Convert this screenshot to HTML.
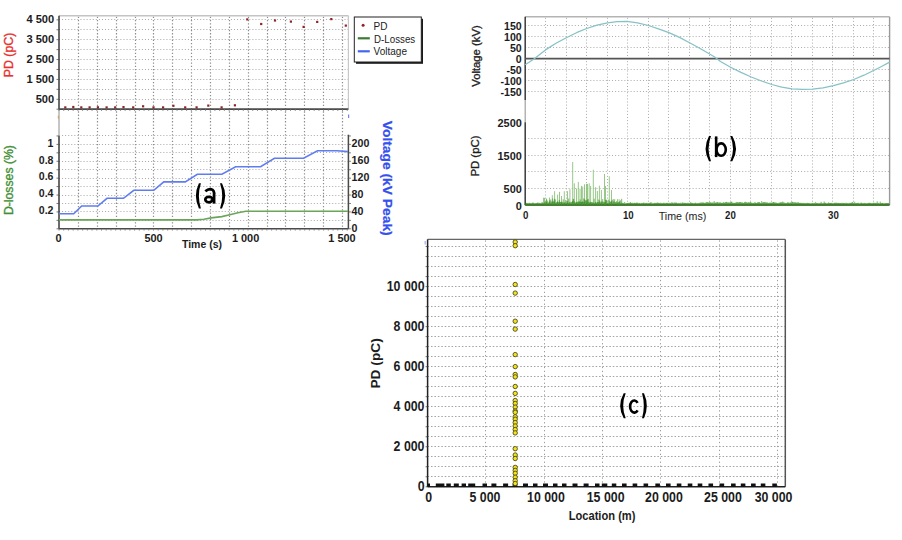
<!DOCTYPE html>
<html><head><meta charset="utf-8"><title>charts</title>
<style>
html,body{margin:0;padding:0;background:#fff;}
body{width:902px;height:540px;overflow:hidden;}
svg{display:block;}
text{font-family:"Liberation Sans",sans-serif;}
</style></head><body>
<svg width="902" height="540" viewBox="0 0 902 540">
<rect width="902" height="540" fill="#fff"/>
<line x1="78.5" y1="16.8" x2="78.5" y2="228.8" stroke="#8c8c8c" stroke-width="1.2" stroke-dasharray="1.3 1.96"/>
<line x1="97.5" y1="16.8" x2="97.5" y2="228.8" stroke="#8c8c8c" stroke-width="1.2" stroke-dasharray="1.3 1.96"/>
<line x1="116.5" y1="16.8" x2="116.5" y2="228.8" stroke="#8c8c8c" stroke-width="1.2" stroke-dasharray="1.3 1.96"/>
<line x1="135.5" y1="16.8" x2="135.5" y2="228.8" stroke="#8c8c8c" stroke-width="1.2" stroke-dasharray="1.3 1.96"/>
<line x1="153.5" y1="16.8" x2="153.5" y2="228.8" stroke="#8c8c8c" stroke-width="1.2" stroke-dasharray="1.3 1.96"/>
<line x1="172.5" y1="16.8" x2="172.5" y2="228.8" stroke="#8c8c8c" stroke-width="1.2" stroke-dasharray="1.3 1.96"/>
<line x1="191.5" y1="16.8" x2="191.5" y2="228.8" stroke="#8c8c8c" stroke-width="1.2" stroke-dasharray="1.3 1.96"/>
<line x1="210.5" y1="16.8" x2="210.5" y2="228.8" stroke="#8c8c8c" stroke-width="1.2" stroke-dasharray="1.3 1.96"/>
<line x1="229.5" y1="16.8" x2="229.5" y2="228.8" stroke="#8c8c8c" stroke-width="1.2" stroke-dasharray="1.3 1.96"/>
<line x1="248.5" y1="16.8" x2="248.5" y2="228.8" stroke="#8c8c8c" stroke-width="1.2" stroke-dasharray="1.3 1.96"/>
<line x1="267.5" y1="16.8" x2="267.5" y2="228.8" stroke="#8c8c8c" stroke-width="1.2" stroke-dasharray="1.3 1.96"/>
<line x1="285.5" y1="16.8" x2="285.5" y2="228.8" stroke="#8c8c8c" stroke-width="1.2" stroke-dasharray="1.3 1.96"/>
<line x1="304.5" y1="16.8" x2="304.5" y2="228.8" stroke="#8c8c8c" stroke-width="1.2" stroke-dasharray="1.3 1.96"/>
<line x1="323.5" y1="16.8" x2="323.5" y2="228.8" stroke="#8c8c8c" stroke-width="1.2" stroke-dasharray="1.3 1.96"/>
<line x1="342.5" y1="16.8" x2="342.5" y2="228.8" stroke="#8c8c8c" stroke-width="1.2" stroke-dasharray="1.3 1.96"/>
<line x1="59" y1="99.5" x2="348.4" y2="99.5" stroke="#a8a8a8" stroke-width="1" stroke-dasharray="1 2.07"/>
<line x1="59" y1="89.5" x2="348.4" y2="89.5" stroke="#a8a8a8" stroke-width="1" stroke-dasharray="1 2.07"/>
<line x1="59" y1="79.5" x2="348.4" y2="79.5" stroke="#a8a8a8" stroke-width="1" stroke-dasharray="1 2.07"/>
<line x1="59" y1="69.5" x2="348.4" y2="69.5" stroke="#a8a8a8" stroke-width="1" stroke-dasharray="1 2.07"/>
<line x1="59" y1="59.5" x2="348.4" y2="59.5" stroke="#a8a8a8" stroke-width="1" stroke-dasharray="1 2.07"/>
<line x1="59" y1="49.5" x2="348.4" y2="49.5" stroke="#a8a8a8" stroke-width="1" stroke-dasharray="1 2.07"/>
<line x1="59" y1="39.5" x2="348.4" y2="39.5" stroke="#a8a8a8" stroke-width="1" stroke-dasharray="1 2.07"/>
<line x1="59" y1="29.5" x2="348.4" y2="29.5" stroke="#a8a8a8" stroke-width="1" stroke-dasharray="1 2.07"/>
<line x1="59" y1="19.5" x2="348.4" y2="19.5" stroke="#a8a8a8" stroke-width="1" stroke-dasharray="1 2.07"/>
<line x1="59" y1="220.5" x2="348.4" y2="220.5" stroke="#a8a8a8" stroke-width="1" stroke-dasharray="1 2.07"/>
<line x1="59" y1="211.5" x2="348.4" y2="211.5" stroke="#a8a8a8" stroke-width="1" stroke-dasharray="1 2.07"/>
<line x1="59" y1="203.5" x2="348.4" y2="203.5" stroke="#a8a8a8" stroke-width="1" stroke-dasharray="1 2.07"/>
<line x1="59" y1="195.5" x2="348.4" y2="195.5" stroke="#a8a8a8" stroke-width="1" stroke-dasharray="1 2.07"/>
<line x1="59" y1="186.5" x2="348.4" y2="186.5" stroke="#a8a8a8" stroke-width="1" stroke-dasharray="1 2.07"/>
<line x1="59" y1="178.5" x2="348.4" y2="178.5" stroke="#a8a8a8" stroke-width="1" stroke-dasharray="1 2.07"/>
<line x1="59" y1="169.5" x2="348.4" y2="169.5" stroke="#a8a8a8" stroke-width="1" stroke-dasharray="1 2.07"/>
<line x1="59" y1="161.5" x2="348.4" y2="161.5" stroke="#a8a8a8" stroke-width="1" stroke-dasharray="1 2.07"/>
<line x1="59" y1="152.5" x2="348.4" y2="152.5" stroke="#a8a8a8" stroke-width="1" stroke-dasharray="1 2.07"/>
<line x1="59" y1="144.5" x2="348.4" y2="144.5" stroke="#a8a8a8" stroke-width="1" stroke-dasharray="1 2.07"/>
<line x1="59" y1="135.5" x2="348.4" y2="135.5" stroke="#a8a8a8" stroke-width="1" stroke-dasharray="1 2.07"/>
<line x1="59" y1="15.8" x2="348.4" y2="15.8" stroke="#c4c4c4" stroke-width="1.6"/>
<line x1="348.4" y1="15.8" x2="348.4" y2="109.2" stroke="#c8c8c8" stroke-width="1.2"/>
<line x1="59" y1="15.8" x2="59" y2="109.2" stroke="#3a3a3a" stroke-width="1.5"/>
<line x1="59" y1="109.2" x2="59" y2="136" stroke="#a0a0a0" stroke-width="1.2"/>
<line x1="59" y1="136" x2="59" y2="228.8" stroke="#3a3a3a" stroke-width="1.5"/>
<line x1="59" y1="109.2" x2="348.4" y2="109.2" stroke="#4a4a4a" stroke-width="1.8"/>
<line x1="59" y1="228.8" x2="348.4" y2="228.8" stroke="#4a4a4a" stroke-width="1.6"/>
<line x1="348.4" y1="134.7" x2="348.4" y2="228.8" stroke="#4a4a4a" stroke-width="1.5"/>
<line x1="59" y1="109.2" x2="59" y2="111" stroke="#777" stroke-width="0.8"/>
<line x1="59" y1="228.8" x2="59" y2="230.6" stroke="#777" stroke-width="0.8"/>
<line x1="63.73" y1="109.2" x2="63.73" y2="111" stroke="#777" stroke-width="0.8"/>
<line x1="63.73" y1="228.8" x2="63.73" y2="230.6" stroke="#777" stroke-width="0.8"/>
<line x1="68.45" y1="109.2" x2="68.45" y2="111" stroke="#777" stroke-width="0.8"/>
<line x1="68.45" y1="228.8" x2="68.45" y2="230.6" stroke="#777" stroke-width="0.8"/>
<line x1="73.17" y1="109.2" x2="73.17" y2="111" stroke="#777" stroke-width="0.8"/>
<line x1="73.17" y1="228.8" x2="73.17" y2="230.6" stroke="#777" stroke-width="0.8"/>
<line x1="77.9" y1="109.2" x2="77.9" y2="111" stroke="#777" stroke-width="0.8"/>
<line x1="77.9" y1="228.8" x2="77.9" y2="230.6" stroke="#777" stroke-width="0.8"/>
<line x1="82.62" y1="109.2" x2="82.62" y2="111" stroke="#777" stroke-width="0.8"/>
<line x1="82.62" y1="228.8" x2="82.62" y2="230.6" stroke="#777" stroke-width="0.8"/>
<line x1="87.35" y1="109.2" x2="87.35" y2="111" stroke="#777" stroke-width="0.8"/>
<line x1="87.35" y1="228.8" x2="87.35" y2="230.6" stroke="#777" stroke-width="0.8"/>
<line x1="92.07" y1="109.2" x2="92.07" y2="111" stroke="#777" stroke-width="0.8"/>
<line x1="92.07" y1="228.8" x2="92.07" y2="230.6" stroke="#777" stroke-width="0.8"/>
<line x1="96.8" y1="109.2" x2="96.8" y2="111" stroke="#777" stroke-width="0.8"/>
<line x1="96.8" y1="228.8" x2="96.8" y2="230.6" stroke="#777" stroke-width="0.8"/>
<line x1="101.53" y1="109.2" x2="101.53" y2="111" stroke="#777" stroke-width="0.8"/>
<line x1="101.53" y1="228.8" x2="101.53" y2="230.6" stroke="#777" stroke-width="0.8"/>
<line x1="106.25" y1="109.2" x2="106.25" y2="111" stroke="#777" stroke-width="0.8"/>
<line x1="106.25" y1="228.8" x2="106.25" y2="230.6" stroke="#777" stroke-width="0.8"/>
<line x1="110.97" y1="109.2" x2="110.97" y2="111" stroke="#777" stroke-width="0.8"/>
<line x1="110.97" y1="228.8" x2="110.97" y2="230.6" stroke="#777" stroke-width="0.8"/>
<line x1="115.7" y1="109.2" x2="115.7" y2="111" stroke="#777" stroke-width="0.8"/>
<line x1="115.7" y1="228.8" x2="115.7" y2="230.6" stroke="#777" stroke-width="0.8"/>
<line x1="120.42" y1="109.2" x2="120.42" y2="111" stroke="#777" stroke-width="0.8"/>
<line x1="120.42" y1="228.8" x2="120.42" y2="230.6" stroke="#777" stroke-width="0.8"/>
<line x1="125.15" y1="109.2" x2="125.15" y2="111" stroke="#777" stroke-width="0.8"/>
<line x1="125.15" y1="228.8" x2="125.15" y2="230.6" stroke="#777" stroke-width="0.8"/>
<line x1="129.88" y1="109.2" x2="129.88" y2="111" stroke="#777" stroke-width="0.8"/>
<line x1="129.88" y1="228.8" x2="129.88" y2="230.6" stroke="#777" stroke-width="0.8"/>
<line x1="134.6" y1="109.2" x2="134.6" y2="111" stroke="#777" stroke-width="0.8"/>
<line x1="134.6" y1="228.8" x2="134.6" y2="230.6" stroke="#777" stroke-width="0.8"/>
<line x1="139.32" y1="109.2" x2="139.32" y2="111" stroke="#777" stroke-width="0.8"/>
<line x1="139.32" y1="228.8" x2="139.32" y2="230.6" stroke="#777" stroke-width="0.8"/>
<line x1="144.05" y1="109.2" x2="144.05" y2="111" stroke="#777" stroke-width="0.8"/>
<line x1="144.05" y1="228.8" x2="144.05" y2="230.6" stroke="#777" stroke-width="0.8"/>
<line x1="148.77" y1="109.2" x2="148.77" y2="111" stroke="#777" stroke-width="0.8"/>
<line x1="148.77" y1="228.8" x2="148.77" y2="230.6" stroke="#777" stroke-width="0.8"/>
<line x1="153.5" y1="109.2" x2="153.5" y2="111" stroke="#777" stroke-width="0.8"/>
<line x1="153.5" y1="228.8" x2="153.5" y2="230.6" stroke="#777" stroke-width="0.8"/>
<line x1="158.22" y1="109.2" x2="158.22" y2="111" stroke="#777" stroke-width="0.8"/>
<line x1="158.22" y1="228.8" x2="158.22" y2="230.6" stroke="#777" stroke-width="0.8"/>
<line x1="162.95" y1="109.2" x2="162.95" y2="111" stroke="#777" stroke-width="0.8"/>
<line x1="162.95" y1="228.8" x2="162.95" y2="230.6" stroke="#777" stroke-width="0.8"/>
<line x1="167.68" y1="109.2" x2="167.68" y2="111" stroke="#777" stroke-width="0.8"/>
<line x1="167.68" y1="228.8" x2="167.68" y2="230.6" stroke="#777" stroke-width="0.8"/>
<line x1="172.4" y1="109.2" x2="172.4" y2="111" stroke="#777" stroke-width="0.8"/>
<line x1="172.4" y1="228.8" x2="172.4" y2="230.6" stroke="#777" stroke-width="0.8"/>
<line x1="177.12" y1="109.2" x2="177.12" y2="111" stroke="#777" stroke-width="0.8"/>
<line x1="177.12" y1="228.8" x2="177.12" y2="230.6" stroke="#777" stroke-width="0.8"/>
<line x1="181.85" y1="109.2" x2="181.85" y2="111" stroke="#777" stroke-width="0.8"/>
<line x1="181.85" y1="228.8" x2="181.85" y2="230.6" stroke="#777" stroke-width="0.8"/>
<line x1="186.57" y1="109.2" x2="186.57" y2="111" stroke="#777" stroke-width="0.8"/>
<line x1="186.57" y1="228.8" x2="186.57" y2="230.6" stroke="#777" stroke-width="0.8"/>
<line x1="191.3" y1="109.2" x2="191.3" y2="111" stroke="#777" stroke-width="0.8"/>
<line x1="191.3" y1="228.8" x2="191.3" y2="230.6" stroke="#777" stroke-width="0.8"/>
<line x1="196.02" y1="109.2" x2="196.02" y2="111" stroke="#777" stroke-width="0.8"/>
<line x1="196.02" y1="228.8" x2="196.02" y2="230.6" stroke="#777" stroke-width="0.8"/>
<line x1="200.75" y1="109.2" x2="200.75" y2="111" stroke="#777" stroke-width="0.8"/>
<line x1="200.75" y1="228.8" x2="200.75" y2="230.6" stroke="#777" stroke-width="0.8"/>
<line x1="205.47" y1="109.2" x2="205.47" y2="111" stroke="#777" stroke-width="0.8"/>
<line x1="205.47" y1="228.8" x2="205.47" y2="230.6" stroke="#777" stroke-width="0.8"/>
<line x1="210.2" y1="109.2" x2="210.2" y2="111" stroke="#777" stroke-width="0.8"/>
<line x1="210.2" y1="228.8" x2="210.2" y2="230.6" stroke="#777" stroke-width="0.8"/>
<line x1="214.92" y1="109.2" x2="214.92" y2="111" stroke="#777" stroke-width="0.8"/>
<line x1="214.92" y1="228.8" x2="214.92" y2="230.6" stroke="#777" stroke-width="0.8"/>
<line x1="219.65" y1="109.2" x2="219.65" y2="111" stroke="#777" stroke-width="0.8"/>
<line x1="219.65" y1="228.8" x2="219.65" y2="230.6" stroke="#777" stroke-width="0.8"/>
<line x1="224.38" y1="109.2" x2="224.38" y2="111" stroke="#777" stroke-width="0.8"/>
<line x1="224.38" y1="228.8" x2="224.38" y2="230.6" stroke="#777" stroke-width="0.8"/>
<line x1="229.1" y1="109.2" x2="229.1" y2="111" stroke="#777" stroke-width="0.8"/>
<line x1="229.1" y1="228.8" x2="229.1" y2="230.6" stroke="#777" stroke-width="0.8"/>
<line x1="233.82" y1="109.2" x2="233.82" y2="111" stroke="#777" stroke-width="0.8"/>
<line x1="233.82" y1="228.8" x2="233.82" y2="230.6" stroke="#777" stroke-width="0.8"/>
<line x1="238.55" y1="109.2" x2="238.55" y2="111" stroke="#777" stroke-width="0.8"/>
<line x1="238.55" y1="228.8" x2="238.55" y2="230.6" stroke="#777" stroke-width="0.8"/>
<line x1="243.27" y1="109.2" x2="243.27" y2="111" stroke="#777" stroke-width="0.8"/>
<line x1="243.27" y1="228.8" x2="243.27" y2="230.6" stroke="#777" stroke-width="0.8"/>
<line x1="248" y1="109.2" x2="248" y2="111" stroke="#777" stroke-width="0.8"/>
<line x1="248" y1="228.8" x2="248" y2="230.6" stroke="#777" stroke-width="0.8"/>
<line x1="252.72" y1="109.2" x2="252.72" y2="111" stroke="#777" stroke-width="0.8"/>
<line x1="252.72" y1="228.8" x2="252.72" y2="230.6" stroke="#777" stroke-width="0.8"/>
<line x1="257.45" y1="109.2" x2="257.45" y2="111" stroke="#777" stroke-width="0.8"/>
<line x1="257.45" y1="228.8" x2="257.45" y2="230.6" stroke="#777" stroke-width="0.8"/>
<line x1="262.17" y1="109.2" x2="262.17" y2="111" stroke="#777" stroke-width="0.8"/>
<line x1="262.17" y1="228.8" x2="262.17" y2="230.6" stroke="#777" stroke-width="0.8"/>
<line x1="266.9" y1="109.2" x2="266.9" y2="111" stroke="#777" stroke-width="0.8"/>
<line x1="266.9" y1="228.8" x2="266.9" y2="230.6" stroke="#777" stroke-width="0.8"/>
<line x1="271.62" y1="109.2" x2="271.62" y2="111" stroke="#777" stroke-width="0.8"/>
<line x1="271.62" y1="228.8" x2="271.62" y2="230.6" stroke="#777" stroke-width="0.8"/>
<line x1="276.35" y1="109.2" x2="276.35" y2="111" stroke="#777" stroke-width="0.8"/>
<line x1="276.35" y1="228.8" x2="276.35" y2="230.6" stroke="#777" stroke-width="0.8"/>
<line x1="281.07" y1="109.2" x2="281.07" y2="111" stroke="#777" stroke-width="0.8"/>
<line x1="281.07" y1="228.8" x2="281.07" y2="230.6" stroke="#777" stroke-width="0.8"/>
<line x1="285.8" y1="109.2" x2="285.8" y2="111" stroke="#777" stroke-width="0.8"/>
<line x1="285.8" y1="228.8" x2="285.8" y2="230.6" stroke="#777" stroke-width="0.8"/>
<line x1="290.52" y1="109.2" x2="290.52" y2="111" stroke="#777" stroke-width="0.8"/>
<line x1="290.52" y1="228.8" x2="290.52" y2="230.6" stroke="#777" stroke-width="0.8"/>
<line x1="295.25" y1="109.2" x2="295.25" y2="111" stroke="#777" stroke-width="0.8"/>
<line x1="295.25" y1="228.8" x2="295.25" y2="230.6" stroke="#777" stroke-width="0.8"/>
<line x1="299.98" y1="109.2" x2="299.98" y2="111" stroke="#777" stroke-width="0.8"/>
<line x1="299.98" y1="228.8" x2="299.98" y2="230.6" stroke="#777" stroke-width="0.8"/>
<line x1="304.7" y1="109.2" x2="304.7" y2="111" stroke="#777" stroke-width="0.8"/>
<line x1="304.7" y1="228.8" x2="304.7" y2="230.6" stroke="#777" stroke-width="0.8"/>
<line x1="309.42" y1="109.2" x2="309.42" y2="111" stroke="#777" stroke-width="0.8"/>
<line x1="309.42" y1="228.8" x2="309.42" y2="230.6" stroke="#777" stroke-width="0.8"/>
<line x1="314.15" y1="109.2" x2="314.15" y2="111" stroke="#777" stroke-width="0.8"/>
<line x1="314.15" y1="228.8" x2="314.15" y2="230.6" stroke="#777" stroke-width="0.8"/>
<line x1="318.88" y1="109.2" x2="318.88" y2="111" stroke="#777" stroke-width="0.8"/>
<line x1="318.88" y1="228.8" x2="318.88" y2="230.6" stroke="#777" stroke-width="0.8"/>
<line x1="323.6" y1="109.2" x2="323.6" y2="111" stroke="#777" stroke-width="0.8"/>
<line x1="323.6" y1="228.8" x2="323.6" y2="230.6" stroke="#777" stroke-width="0.8"/>
<line x1="328.32" y1="109.2" x2="328.32" y2="111" stroke="#777" stroke-width="0.8"/>
<line x1="328.32" y1="228.8" x2="328.32" y2="230.6" stroke="#777" stroke-width="0.8"/>
<line x1="333.05" y1="109.2" x2="333.05" y2="111" stroke="#777" stroke-width="0.8"/>
<line x1="333.05" y1="228.8" x2="333.05" y2="230.6" stroke="#777" stroke-width="0.8"/>
<line x1="337.77" y1="109.2" x2="337.77" y2="111" stroke="#777" stroke-width="0.8"/>
<line x1="337.77" y1="228.8" x2="337.77" y2="230.6" stroke="#777" stroke-width="0.8"/>
<line x1="342.5" y1="109.2" x2="342.5" y2="111" stroke="#777" stroke-width="0.8"/>
<line x1="342.5" y1="228.8" x2="342.5" y2="230.6" stroke="#777" stroke-width="0.8"/>
<line x1="347.22" y1="109.2" x2="347.22" y2="111" stroke="#777" stroke-width="0.8"/>
<line x1="347.22" y1="228.8" x2="347.22" y2="230.6" stroke="#777" stroke-width="0.8"/>
<line x1="348.4" y1="228.8" x2="350.9" y2="228.8" stroke="#555" stroke-width="0.8"/>
<line x1="56.5" y1="228.8" x2="59" y2="228.8" stroke="#555" stroke-width="0.8"/>
<line x1="348.4" y1="220.36" x2="350.9" y2="220.36" stroke="#555" stroke-width="0.8"/>
<line x1="56.5" y1="220.36" x2="59" y2="220.36" stroke="#555" stroke-width="0.8"/>
<line x1="348.4" y1="211.92" x2="350.9" y2="211.92" stroke="#555" stroke-width="0.8"/>
<line x1="56.5" y1="211.92" x2="59" y2="211.92" stroke="#555" stroke-width="0.8"/>
<line x1="348.4" y1="203.48" x2="350.9" y2="203.48" stroke="#555" stroke-width="0.8"/>
<line x1="56.5" y1="203.48" x2="59" y2="203.48" stroke="#555" stroke-width="0.8"/>
<line x1="348.4" y1="195.04" x2="350.9" y2="195.04" stroke="#555" stroke-width="0.8"/>
<line x1="56.5" y1="195.04" x2="59" y2="195.04" stroke="#555" stroke-width="0.8"/>
<line x1="348.4" y1="186.6" x2="350.9" y2="186.6" stroke="#555" stroke-width="0.8"/>
<line x1="56.5" y1="186.6" x2="59" y2="186.6" stroke="#555" stroke-width="0.8"/>
<line x1="348.4" y1="178.16" x2="350.9" y2="178.16" stroke="#555" stroke-width="0.8"/>
<line x1="56.5" y1="178.16" x2="59" y2="178.16" stroke="#555" stroke-width="0.8"/>
<line x1="348.4" y1="169.72" x2="350.9" y2="169.72" stroke="#555" stroke-width="0.8"/>
<line x1="56.5" y1="169.72" x2="59" y2="169.72" stroke="#555" stroke-width="0.8"/>
<line x1="348.4" y1="161.28" x2="350.9" y2="161.28" stroke="#555" stroke-width="0.8"/>
<line x1="56.5" y1="161.28" x2="59" y2="161.28" stroke="#555" stroke-width="0.8"/>
<line x1="348.4" y1="152.84" x2="350.9" y2="152.84" stroke="#555" stroke-width="0.8"/>
<line x1="56.5" y1="152.84" x2="59" y2="152.84" stroke="#555" stroke-width="0.8"/>
<line x1="348.4" y1="144.4" x2="350.9" y2="144.4" stroke="#555" stroke-width="0.8"/>
<line x1="56.5" y1="144.4" x2="59" y2="144.4" stroke="#555" stroke-width="0.8"/>
<line x1="348.4" y1="135.96" x2="350.9" y2="135.96" stroke="#555" stroke-width="0.8"/>
<line x1="56.5" y1="135.96" x2="59" y2="135.96" stroke="#555" stroke-width="0.8"/>
<line x1="56.5" y1="109.2" x2="59" y2="109.2" stroke="#555" stroke-width="0.8"/>
<line x1="56.5" y1="99.27" x2="59" y2="99.27" stroke="#555" stroke-width="0.8"/>
<line x1="56.5" y1="89.34" x2="59" y2="89.34" stroke="#555" stroke-width="0.8"/>
<line x1="56.5" y1="79.41" x2="59" y2="79.41" stroke="#555" stroke-width="0.8"/>
<line x1="56.5" y1="69.48" x2="59" y2="69.48" stroke="#555" stroke-width="0.8"/>
<line x1="56.5" y1="59.55" x2="59" y2="59.55" stroke="#555" stroke-width="0.8"/>
<line x1="56.5" y1="49.62" x2="59" y2="49.62" stroke="#555" stroke-width="0.8"/>
<line x1="56.5" y1="39.69" x2="59" y2="39.69" stroke="#555" stroke-width="0.8"/>
<line x1="56.5" y1="29.76" x2="59" y2="29.76" stroke="#555" stroke-width="0.8"/>
<line x1="56.5" y1="19.83" x2="59" y2="19.83" stroke="#555" stroke-width="0.8"/>
<polyline fill="none" stroke="#5f7df0" stroke-width="1.6" points="59,213.8 73.7,213.8 81.7,206 97.9,206 107,198.3 123.5,198.3 133.8,190.3 153.8,190.3 163.8,181.9 185.3,181.9 197.3,174.3 221.9,174.3 235.6,166.7 260.6,166.7 274.4,158.3 303.6,158.3 317.5,150.8 337,150.8 348,151.6"/>
<polyline fill="none" stroke="#6aa55a" stroke-width="1.6" points="59,219.9 196.6,219.9 204,219.2 211.2,217.9 221.8,216.6 229.8,214.7 238,212.8 245.8,211.3 348,211.3"/>
<rect x="64.2" y="106.3" width="2.2" height="2.2" fill="#8e2424"/>
<rect x="72.2" y="105.9" width="2.2" height="2.2" fill="#8e2424"/>
<rect x="80.2" y="106.3" width="2.2" height="2.2" fill="#8e2424"/>
<rect x="88.5" y="106.3" width="2.2" height="2.2" fill="#8e2424"/>
<rect x="96.8" y="106.2" width="2.2" height="2.2" fill="#8e2424"/>
<rect x="105.5" y="106.3" width="2.2" height="2.2" fill="#8e2424"/>
<rect x="114.1" y="106.3" width="2.2" height="2.2" fill="#8e2424"/>
<rect x="122.4" y="106" width="2.2" height="2.2" fill="#8e2424"/>
<rect x="132.1" y="106.3" width="2.2" height="2.2" fill="#8e2424"/>
<rect x="142" y="105.2" width="2.2" height="2.2" fill="#8e2424"/>
<rect x="152.4" y="106.3" width="2.2" height="2.2" fill="#8e2424"/>
<rect x="162" y="106.3" width="2.2" height="2.2" fill="#8e2424"/>
<rect x="172.3" y="104.7" width="2.2" height="2.2" fill="#8e2424"/>
<rect x="184.1" y="106.3" width="2.2" height="2.2" fill="#8e2424"/>
<rect x="195.5" y="106.3" width="2.2" height="2.2" fill="#8e2424"/>
<rect x="207.2" y="104.5" width="2.2" height="2.2" fill="#8e2424"/>
<rect x="220.5" y="106.3" width="2.2" height="2.2" fill="#8e2424"/>
<rect x="233.8" y="104.2" width="2.2" height="2.2" fill="#8e2424"/>
<rect x="246.2" y="18.3" width="2.2" height="2.2" fill="#8e2424"/>
<rect x="260.1" y="22.9" width="2.2" height="2.2" fill="#8e2424"/>
<rect x="273.9" y="19.4" width="2.2" height="2.2" fill="#8e2424"/>
<rect x="289.8" y="20.5" width="2.2" height="2.2" fill="#8e2424"/>
<rect x="302.5" y="25.8" width="2.2" height="2.2" fill="#8e2424"/>
<rect x="316.1" y="20.8" width="2.2" height="2.2" fill="#8e2424"/>
<rect x="330.2" y="18" width="2.2" height="2.2" fill="#8e2424"/>
<rect x="344.7" y="24.5" width="2.2" height="2.2" fill="#8e2424"/>
<text transform="translate(54.14,102.71) scale(0.983,1)" font-size="11.3" text-anchor="end" font-weight="bold" fill="#1c1c1c">500</text>
<text transform="translate(54.14,82.85) scale(0.983,1)" font-size="11.3" text-anchor="end" font-weight="bold" fill="#1c1c1c">1 500</text>
<text transform="translate(54.14,62.99) scale(0.983,1)" font-size="11.3" text-anchor="end" font-weight="bold" fill="#1c1c1c">2 500</text>
<text transform="translate(54.14,43.13) scale(0.983,1)" font-size="11.3" text-anchor="end" font-weight="bold" fill="#1c1c1c">3 500</text>
<text transform="translate(54.14,23.27) scale(0.983,1)" font-size="11.3" text-anchor="end" font-weight="bold" fill="#1c1c1c">4 500</text>
<text transform="translate(53.46,214.2) scale(0.937,1)" font-size="11.3" text-anchor="end" font-weight="bold" fill="#1c1c1c">0.2</text>
<text transform="translate(53.46,197.32) scale(0.937,1)" font-size="11.3" text-anchor="end" font-weight="bold" fill="#1c1c1c">0.4</text>
<text transform="translate(53.46,180.44) scale(0.937,1)" font-size="11.3" text-anchor="end" font-weight="bold" fill="#1c1c1c">0.6</text>
<text transform="translate(53.46,163.56) scale(0.937,1)" font-size="11.3" text-anchor="end" font-weight="bold" fill="#1c1c1c">0.8</text>
<text transform="translate(53.46,146.68) scale(0.937,1)" font-size="11.3" text-anchor="end" font-weight="bold" fill="#1c1c1c">1</text>
<text transform="translate(351.56,231.8) scale(0.926,1)" font-size="11.5" text-anchor="start" font-weight="bold" fill="#1c1c1c">0</text>
<text transform="translate(351.56,214.92) scale(0.926,1)" font-size="11.5" text-anchor="start" font-weight="bold" fill="#1c1c1c">40</text>
<text transform="translate(351.56,198.04) scale(0.926,1)" font-size="11.5" text-anchor="start" font-weight="bold" fill="#1c1c1c">80</text>
<text transform="translate(351.56,181.16) scale(0.926,1)" font-size="11.5" text-anchor="start" font-weight="bold" fill="#1c1c1c">120</text>
<text transform="translate(351.56,164.28) scale(0.926,1)" font-size="11.5" text-anchor="start" font-weight="bold" fill="#1c1c1c">160</text>
<text transform="translate(351.56,147.4) scale(0.926,1)" font-size="11.5" text-anchor="start" font-weight="bold" fill="#1c1c1c">200</text>
<text transform="translate(58.43,242.4) scale(0.951,1)" font-size="11.5" text-anchor="middle" font-weight="bold" fill="#1c1c1c">0</text>
<text transform="translate(153.53,242.4) scale(0.951,1)" font-size="11.5" text-anchor="middle" font-weight="bold" fill="#1c1c1c">500</text>
<text transform="translate(245.58,242.4) scale(0.951,1)" font-size="11.5" text-anchor="middle" font-weight="bold" fill="#1c1c1c">1 000</text>
<text transform="translate(341.98,242.4) scale(0.951,1)" font-size="11.5" text-anchor="middle" font-weight="bold" fill="#1c1c1c">1 500</text>
<text transform="translate(201.98,248.46) scale(0.911,1)" font-size="11.5" text-anchor="middle" font-weight="bold" fill="#1c1c1c">Time (s)</text>
<text transform="translate(12.78,55) rotate(-90) scale(1.034,1)" font-size="12" text-anchor="middle" font-weight="normal" fill="#e8302c" stroke="#e8302c" stroke-width="0.35">PD (pC)</text>
<text transform="translate(12.76,180.06) rotate(-90) scale(1.020,1)" font-size="12" text-anchor="middle" font-weight="normal" fill="#3f8f35" stroke="#3f8f35" stroke-width="0.35">D-losses (%)</text>
<text transform="translate(382.5,178.2) rotate(90) scale(1.064,1)" font-size="13" text-anchor="middle" font-weight="bold" fill="#3550ee" stroke="#3550ee" stroke-width="0.2">Voltage (kV Peak)</text>
<rect x="356" y="18.8" width="67" height="45" fill="#1a1a1a"/>
<rect x="354.3" y="17" width="67" height="45" fill="#fff" stroke="#222" stroke-width="1"/>
<circle cx="363.1" cy="25.3" r="1.5" fill="#8e2424"/>
<line x1="357.8" y1="38.3" x2="369.8" y2="38.3" stroke="#3c7a30" stroke-width="2.2"/>
<line x1="357.8" y1="51.3" x2="369.8" y2="51.3" stroke="#4466ee" stroke-width="2.2"/>
<text transform="translate(373.6,29.8)" font-size="10" text-anchor="start" font-weight="normal" fill="#1c1c1c">PD</text>
<text transform="translate(374,43.04) scale(0.976,1)" font-size="10" text-anchor="start" font-weight="normal" fill="#1c1c1c">D-Losses</text>
<text transform="translate(373.6,55.3)" font-size="10" text-anchor="start" font-weight="normal" fill="#1c1c1c">Voltage</text>
<path d="M198.9,183.2 Q192.9,195.8 198.9,208.4 L200.9,208.4 Q196.9,195.8 200.9,183.2 Z" fill="#000"/>
<g fill="none" stroke="#000" stroke-width="2.7"><path d="M214.1,192.6 L214.1,203.6"/><path d="M205.3,191.3 Q209.2,187.9 212.6,189.9 Q214.2,191 214.1,193.4"/><ellipse cx="208.95" cy="199.6" rx="3.65" ry="2.75"/></g>
<path d="M222,183.2 Q228.4,195.8 222,208.4 L220,208.4 Q224.4,195.8 220,183.2 Z" fill="#000"/>
<rect x="348" y="114.5" width="1.2" height="3.5" fill="#6f86f0"/>
<rect x="57.8" y="115.8" width="1.2" height="2.8" fill="#e0a040"/>
<rect x="424.6" y="241" width="1.2" height="3.5" fill="#9ab0f0"/>
<line x1="545.5" y1="17.8" x2="545.5" y2="205" stroke="#ababab" stroke-width="1" stroke-dasharray="1 2.1"/>
<line x1="566.5" y1="17.8" x2="566.5" y2="205" stroke="#ababab" stroke-width="1" stroke-dasharray="1 2.1"/>
<line x1="586.5" y1="17.8" x2="586.5" y2="205" stroke="#ababab" stroke-width="1" stroke-dasharray="1 2.1"/>
<line x1="607.5" y1="17.8" x2="607.5" y2="205" stroke="#ababab" stroke-width="1" stroke-dasharray="1 2.1"/>
<line x1="627.5" y1="17.8" x2="627.5" y2="205" stroke="#ababab" stroke-width="1" stroke-dasharray="1 2.1"/>
<line x1="648.5" y1="17.8" x2="648.5" y2="205" stroke="#ababab" stroke-width="1" stroke-dasharray="1 2.1"/>
<line x1="668.5" y1="17.8" x2="668.5" y2="205" stroke="#ababab" stroke-width="1" stroke-dasharray="1 2.1"/>
<line x1="689.5" y1="17.8" x2="689.5" y2="205" stroke="#ababab" stroke-width="1" stroke-dasharray="1 2.1"/>
<line x1="709.5" y1="17.8" x2="709.5" y2="205" stroke="#ababab" stroke-width="1" stroke-dasharray="1 2.1"/>
<line x1="730.5" y1="17.8" x2="730.5" y2="205" stroke="#ababab" stroke-width="1" stroke-dasharray="1 2.1"/>
<line x1="750.5" y1="17.8" x2="750.5" y2="205" stroke="#ababab" stroke-width="1" stroke-dasharray="1 2.1"/>
<line x1="771.5" y1="17.8" x2="771.5" y2="205" stroke="#ababab" stroke-width="1" stroke-dasharray="1 2.1"/>
<line x1="791.5" y1="17.8" x2="791.5" y2="205" stroke="#ababab" stroke-width="1" stroke-dasharray="1 2.1"/>
<line x1="812.5" y1="17.8" x2="812.5" y2="205" stroke="#ababab" stroke-width="1" stroke-dasharray="1 2.1"/>
<line x1="832.5" y1="17.8" x2="832.5" y2="205" stroke="#ababab" stroke-width="1" stroke-dasharray="1 2.1"/>
<line x1="853.5" y1="17.8" x2="853.5" y2="205" stroke="#ababab" stroke-width="1" stroke-dasharray="1 2.1"/>
<line x1="873.5" y1="17.8" x2="873.5" y2="205" stroke="#ababab" stroke-width="1" stroke-dasharray="1 2.1"/>
<line x1="525.2" y1="91.5" x2="889.6" y2="91.5" stroke="#ababab" stroke-width="1" stroke-dasharray="1 2.1"/>
<line x1="525.2" y1="80.5" x2="889.6" y2="80.5" stroke="#ababab" stroke-width="1" stroke-dasharray="1 2.1"/>
<line x1="525.2" y1="69.5" x2="889.6" y2="69.5" stroke="#ababab" stroke-width="1" stroke-dasharray="1 2.1"/>
<line x1="525.2" y1="47.5" x2="889.6" y2="47.5" stroke="#ababab" stroke-width="1" stroke-dasharray="1 2.1"/>
<line x1="525.2" y1="36.5" x2="889.6" y2="36.5" stroke="#ababab" stroke-width="1" stroke-dasharray="1 2.1"/>
<line x1="525.2" y1="25.5" x2="889.6" y2="25.5" stroke="#ababab" stroke-width="1" stroke-dasharray="1 2.1"/>
<line x1="525.2" y1="188.5" x2="889.6" y2="188.5" stroke="#ababab" stroke-width="1" stroke-dasharray="1 2.1"/>
<line x1="525.2" y1="171.5" x2="889.6" y2="171.5" stroke="#ababab" stroke-width="1" stroke-dasharray="1 2.1"/>
<line x1="525.2" y1="155.5" x2="889.6" y2="155.5" stroke="#ababab" stroke-width="1" stroke-dasharray="1 2.1"/>
<line x1="525.2" y1="138.5" x2="889.6" y2="138.5" stroke="#ababab" stroke-width="1" stroke-dasharray="1 2.1"/>
<line x1="525.2" y1="16.8" x2="889.6" y2="16.8" stroke="#b4b4b4" stroke-width="1.5"/>
<line x1="889.6" y1="16.8" x2="889.6" y2="205" stroke="#9a9a9a" stroke-width="1.4"/>
<line x1="525.2" y1="16.8" x2="525.2" y2="100" stroke="#3a3a3a" stroke-width="1.5"/>
<line x1="525.2" y1="100" x2="525.2" y2="122.2" stroke="#a0a0a0" stroke-width="1.2"/>
<line x1="525.2" y1="122.2" x2="525.2" y2="205" stroke="#3a3a3a" stroke-width="1.5"/>
<line x1="525.2" y1="58.6" x2="889.6" y2="58.6" stroke="#555" stroke-width="1.6"/>
<line x1="525.2" y1="205" x2="889.6" y2="205" stroke="#444" stroke-width="1.4"/>
<polyline fill="none" stroke="#86c2c6" stroke-width="1.25" stroke-linejoin="round" points="525.2,64.8 534.3,58.7 545.5,49.9 556,43.3 566.3,37.7 576.5,32.7 586.7,28.5 597,25.2 607.6,22.8 617,21.7 627,21.4 637.5,22.8 648.5,25.5 658.5,28.8 668.9,32.6 679.5,37.4 689.6,42.8 699.7,48.3 709.6,54 714.7,57 720.5,61.5 730.6,67.2 741,72.4 751.3,77 761.5,81 771.7,84.5 781.8,87.2 792,88.8 802.5,89.4 812.6,89.1 823,87.8 833.4,85.6 843.5,82.8 853.7,79.5 864,75.2 874.1,70.3 882,66.2 889.6,62.1"/>
<line x1="544.6" y1="205" x2="544.6" y2="197.9" stroke="#8cc27a" stroke-width="0.9"/>
<line x1="546.5" y1="205" x2="546.5" y2="198.5" stroke="#8cc27a" stroke-width="0.9"/>
<line x1="549.5" y1="205" x2="549.5" y2="197.6" stroke="#8cc27a" stroke-width="0.9"/>
<line x1="552.3" y1="205" x2="552.3" y2="195.2" stroke="#8cc27a" stroke-width="0.9"/>
<line x1="554.6" y1="205" x2="554.6" y2="191.2" stroke="#8cc27a" stroke-width="0.9"/>
<line x1="557.6" y1="205" x2="557.6" y2="194.6" stroke="#8cc27a" stroke-width="0.9"/>
<line x1="559.5" y1="205" x2="559.5" y2="191.9" stroke="#8cc27a" stroke-width="0.9"/>
<line x1="561.5" y1="205" x2="561.5" y2="196" stroke="#8cc27a" stroke-width="0.9"/>
<line x1="564.3" y1="205" x2="564.3" y2="191.2" stroke="#8cc27a" stroke-width="0.9"/>
<line x1="567.5" y1="205" x2="567.5" y2="191.2" stroke="#8cc27a" stroke-width="0.9"/>
<line x1="569.9" y1="205" x2="569.9" y2="189.2" stroke="#8cc27a" stroke-width="0.9"/>
<line x1="572.7" y1="205" x2="572.7" y2="162" stroke="#8cc27a" stroke-width="0.9"/>
<line x1="574.3" y1="205" x2="574.3" y2="183.3" stroke="#8cc27a" stroke-width="0.9"/>
<line x1="576.5" y1="205" x2="576.5" y2="188.6" stroke="#8cc27a" stroke-width="0.9"/>
<line x1="578.3" y1="205" x2="578.3" y2="181.9" stroke="#8cc27a" stroke-width="0.9"/>
<line x1="580" y1="205" x2="580" y2="188.6" stroke="#8cc27a" stroke-width="0.9"/>
<line x1="581.5" y1="205" x2="581.5" y2="185.9" stroke="#8cc27a" stroke-width="0.9"/>
<line x1="582.7" y1="205" x2="582.7" y2="186.6" stroke="#8cc27a" stroke-width="0.9"/>
<line x1="584.5" y1="205" x2="584.5" y2="184.3" stroke="#8cc27a" stroke-width="0.9"/>
<line x1="586.5" y1="205" x2="586.5" y2="183.9" stroke="#8cc27a" stroke-width="0.9"/>
<line x1="587.5" y1="205" x2="587.5" y2="183.9" stroke="#8cc27a" stroke-width="0.9"/>
<line x1="589.2" y1="205" x2="589.2" y2="183.3" stroke="#8cc27a" stroke-width="0.9"/>
<line x1="590.6" y1="205" x2="590.6" y2="186" stroke="#8cc27a" stroke-width="0.9"/>
<line x1="593.3" y1="205" x2="593.3" y2="169.7" stroke="#8cc27a" stroke-width="0.9"/>
<line x1="595.6" y1="205" x2="595.6" y2="187.2" stroke="#8cc27a" stroke-width="0.9"/>
<line x1="597.4" y1="205" x2="597.4" y2="191" stroke="#8cc27a" stroke-width="0.9"/>
<line x1="599.4" y1="205" x2="599.4" y2="185.7" stroke="#8cc27a" stroke-width="0.9"/>
<line x1="601.4" y1="205" x2="601.4" y2="190" stroke="#8cc27a" stroke-width="0.9"/>
<line x1="604.5" y1="205" x2="604.5" y2="174" stroke="#8cc27a" stroke-width="0.9"/>
<line x1="605.5" y1="205" x2="605.5" y2="186" stroke="#8cc27a" stroke-width="0.9"/>
<line x1="609.3" y1="205" x2="609.3" y2="176.3" stroke="#8cc27a" stroke-width="0.9"/>
<line x1="611.5" y1="205" x2="611.5" y2="190" stroke="#8cc27a" stroke-width="0.9"/>
<line x1="617.5" y1="205" x2="617.5" y2="199.2" stroke="#8cc27a" stroke-width="0.9"/>
<line x1="619.1" y1="205" x2="619.1" y2="199.2" stroke="#8cc27a" stroke-width="0.9"/>
<line x1="525.2" y1="205.6" x2="525.2" y2="203.39" stroke="#2f8616" stroke-width="0.6"/>
<line x1="525.7" y1="205.6" x2="525.7" y2="203.27" stroke="#2f8616" stroke-width="0.6"/>
<line x1="526.2" y1="205.6" x2="526.2" y2="203.02" stroke="#2f8616" stroke-width="0.6"/>
<line x1="526.7" y1="205.6" x2="526.7" y2="202.85" stroke="#2f8616" stroke-width="0.6"/>
<line x1="527.2" y1="205.6" x2="527.2" y2="203.39" stroke="#2f8616" stroke-width="0.6"/>
<line x1="527.7" y1="205.6" x2="527.7" y2="203.18" stroke="#2f8616" stroke-width="0.6"/>
<line x1="528.2" y1="205.6" x2="528.2" y2="203.17" stroke="#2f8616" stroke-width="0.6"/>
<line x1="528.7" y1="205.6" x2="528.7" y2="203.46" stroke="#2f8616" stroke-width="0.6"/>
<line x1="529.2" y1="205.6" x2="529.2" y2="202.82" stroke="#2f8616" stroke-width="0.6"/>
<line x1="529.7" y1="205.6" x2="529.7" y2="202.93" stroke="#2f8616" stroke-width="0.6"/>
<line x1="530.2" y1="205.6" x2="530.2" y2="203.54" stroke="#2f8616" stroke-width="0.6"/>
<line x1="530.7" y1="205.6" x2="530.7" y2="203.07" stroke="#2f8616" stroke-width="0.6"/>
<line x1="531.2" y1="205.6" x2="531.2" y2="203.57" stroke="#2f8616" stroke-width="0.6"/>
<line x1="531.7" y1="205.6" x2="531.7" y2="203.17" stroke="#2f8616" stroke-width="0.6"/>
<line x1="532.2" y1="205.6" x2="532.2" y2="202.81" stroke="#2f8616" stroke-width="0.6"/>
<line x1="532.7" y1="205.6" x2="532.7" y2="202.77" stroke="#2f8616" stroke-width="0.6"/>
<line x1="533.2" y1="205.6" x2="533.2" y2="202.88" stroke="#2f8616" stroke-width="0.6"/>
<line x1="533.7" y1="205.6" x2="533.7" y2="202.76" stroke="#2f8616" stroke-width="0.6"/>
<line x1="534.2" y1="205.6" x2="534.2" y2="203.51" stroke="#2f8616" stroke-width="0.6"/>
<line x1="534.7" y1="205.6" x2="534.7" y2="203.4" stroke="#2f8616" stroke-width="0.6"/>
<line x1="535.2" y1="205.6" x2="535.2" y2="203.21" stroke="#2f8616" stroke-width="0.6"/>
<line x1="535.7" y1="205.6" x2="535.7" y2="203.33" stroke="#2f8616" stroke-width="0.6"/>
<line x1="536.2" y1="205.6" x2="536.2" y2="203.25" stroke="#2f8616" stroke-width="0.6"/>
<line x1="536.7" y1="205.6" x2="536.7" y2="203.07" stroke="#2f8616" stroke-width="0.6"/>
<line x1="537.2" y1="205.6" x2="537.2" y2="202.79" stroke="#2f8616" stroke-width="0.6"/>
<line x1="537.7" y1="205.6" x2="537.7" y2="202.76" stroke="#2f8616" stroke-width="0.6"/>
<line x1="538.2" y1="205.6" x2="538.2" y2="202.71" stroke="#2f8616" stroke-width="0.6"/>
<line x1="538.7" y1="205.6" x2="538.7" y2="203.45" stroke="#2f8616" stroke-width="0.6"/>
<line x1="539.2" y1="205.6" x2="539.2" y2="202.73" stroke="#2f8616" stroke-width="0.6"/>
<line x1="539.7" y1="205.6" x2="539.7" y2="203.09" stroke="#2f8616" stroke-width="0.6"/>
<line x1="540.2" y1="205.6" x2="540.2" y2="203.41" stroke="#2f8616" stroke-width="0.6"/>
<line x1="540.7" y1="205.6" x2="540.7" y2="203.08" stroke="#2f8616" stroke-width="0.6"/>
<line x1="541.2" y1="205.6" x2="541.2" y2="203.54" stroke="#2f8616" stroke-width="0.6"/>
<line x1="541.7" y1="205.6" x2="541.7" y2="202.71" stroke="#2f8616" stroke-width="0.6"/>
<line x1="542.2" y1="205.6" x2="542.2" y2="202.13" stroke="#2f8616" stroke-width="0.6"/>
<line x1="542.7" y1="205.6" x2="542.7" y2="202.84" stroke="#2f8616" stroke-width="0.6"/>
<line x1="543.2" y1="205.6" x2="543.2" y2="203.06" stroke="#2f8616" stroke-width="0.6"/>
<line x1="543.7" y1="205.6" x2="543.7" y2="197.72" stroke="#2f8616" stroke-width="0.6"/>
<line x1="544.2" y1="205.6" x2="544.2" y2="203.37" stroke="#2f8616" stroke-width="0.6"/>
<line x1="544.7" y1="205.6" x2="544.7" y2="202.45" stroke="#2f8616" stroke-width="0.6"/>
<line x1="545.2" y1="205.6" x2="545.2" y2="201.38" stroke="#2f8616" stroke-width="0.6"/>
<line x1="545.7" y1="205.6" x2="545.7" y2="202.48" stroke="#2f8616" stroke-width="0.6"/>
<line x1="546.2" y1="205.6" x2="546.2" y2="202.13" stroke="#2f8616" stroke-width="0.6"/>
<line x1="546.7" y1="205.6" x2="546.7" y2="199.54" stroke="#2f8616" stroke-width="0.6"/>
<line x1="547.2" y1="205.6" x2="547.2" y2="202.55" stroke="#2f8616" stroke-width="0.6"/>
<line x1="547.7" y1="205.6" x2="547.7" y2="200.69" stroke="#2f8616" stroke-width="0.6"/>
<line x1="548.2" y1="205.6" x2="548.2" y2="202.96" stroke="#2f8616" stroke-width="0.6"/>
<line x1="548.7" y1="205.6" x2="548.7" y2="202.65" stroke="#2f8616" stroke-width="0.6"/>
<line x1="549.2" y1="205.6" x2="549.2" y2="201.82" stroke="#2f8616" stroke-width="0.6"/>
<line x1="549.7" y1="205.6" x2="549.7" y2="200.41" stroke="#2f8616" stroke-width="0.6"/>
<line x1="550.2" y1="205.6" x2="550.2" y2="202.72" stroke="#2f8616" stroke-width="0.6"/>
<line x1="550.7" y1="205.6" x2="550.7" y2="199.47" stroke="#2f8616" stroke-width="0.6"/>
<line x1="551.2" y1="205.6" x2="551.2" y2="201.54" stroke="#2f8616" stroke-width="0.6"/>
<line x1="551.7" y1="205.6" x2="551.7" y2="202.6" stroke="#2f8616" stroke-width="0.6"/>
<line x1="552.2" y1="205.6" x2="552.2" y2="201.36" stroke="#2f8616" stroke-width="0.6"/>
<line x1="552.7" y1="205.6" x2="552.7" y2="198.57" stroke="#2f8616" stroke-width="0.6"/>
<line x1="553.2" y1="205.6" x2="553.2" y2="201.97" stroke="#2f8616" stroke-width="0.6"/>
<line x1="553.7" y1="205.6" x2="553.7" y2="200.75" stroke="#2f8616" stroke-width="0.6"/>
<line x1="554.2" y1="205.6" x2="554.2" y2="201.96" stroke="#2f8616" stroke-width="0.6"/>
<line x1="554.7" y1="205.6" x2="554.7" y2="198.84" stroke="#2f8616" stroke-width="0.6"/>
<line x1="555.2" y1="205.6" x2="555.2" y2="199.51" stroke="#2f8616" stroke-width="0.6"/>
<line x1="555.7" y1="205.6" x2="555.7" y2="202.66" stroke="#2f8616" stroke-width="0.6"/>
<line x1="556.2" y1="205.6" x2="556.2" y2="202.76" stroke="#2f8616" stroke-width="0.6"/>
<line x1="556.7" y1="205.6" x2="556.7" y2="202.16" stroke="#2f8616" stroke-width="0.6"/>
<line x1="557.2" y1="205.6" x2="557.2" y2="201.65" stroke="#2f8616" stroke-width="0.6"/>
<line x1="557.7" y1="205.6" x2="557.7" y2="201.56" stroke="#2f8616" stroke-width="0.6"/>
<line x1="558.2" y1="205.6" x2="558.2" y2="202.02" stroke="#2f8616" stroke-width="0.6"/>
<line x1="558.7" y1="205.6" x2="558.7" y2="202.52" stroke="#2f8616" stroke-width="0.6"/>
<line x1="559.2" y1="205.6" x2="559.2" y2="199.91" stroke="#2f8616" stroke-width="0.6"/>
<line x1="559.7" y1="205.6" x2="559.7" y2="202.48" stroke="#2f8616" stroke-width="0.6"/>
<line x1="560.2" y1="205.6" x2="560.2" y2="201.72" stroke="#2f8616" stroke-width="0.6"/>
<line x1="560.7" y1="205.6" x2="560.7" y2="202" stroke="#2f8616" stroke-width="0.6"/>
<line x1="561.2" y1="205.6" x2="561.2" y2="202.6" stroke="#2f8616" stroke-width="0.6"/>
<line x1="561.7" y1="205.6" x2="561.7" y2="201.68" stroke="#2f8616" stroke-width="0.6"/>
<line x1="562.2" y1="205.6" x2="562.2" y2="202.86" stroke="#2f8616" stroke-width="0.6"/>
<line x1="562.7" y1="205.6" x2="562.7" y2="201.99" stroke="#2f8616" stroke-width="0.6"/>
<line x1="563.2" y1="205.6" x2="563.2" y2="199.34" stroke="#2f8616" stroke-width="0.6"/>
<line x1="563.7" y1="205.6" x2="563.7" y2="202.93" stroke="#2f8616" stroke-width="0.6"/>
<line x1="564.2" y1="205.6" x2="564.2" y2="202.59" stroke="#2f8616" stroke-width="0.6"/>
<line x1="564.7" y1="205.6" x2="564.7" y2="202.79" stroke="#2f8616" stroke-width="0.6"/>
<line x1="565.2" y1="205.6" x2="565.2" y2="202.12" stroke="#2f8616" stroke-width="0.6"/>
<line x1="565.7" y1="205.6" x2="565.7" y2="199.91" stroke="#2f8616" stroke-width="0.6"/>
<line x1="566.2" y1="205.6" x2="566.2" y2="202.97" stroke="#2f8616" stroke-width="0.6"/>
<line x1="566.7" y1="205.6" x2="566.7" y2="201.69" stroke="#2f8616" stroke-width="0.6"/>
<line x1="567.2" y1="205.6" x2="567.2" y2="202.47" stroke="#2f8616" stroke-width="0.6"/>
<line x1="567.7" y1="205.6" x2="567.7" y2="200.92" stroke="#2f8616" stroke-width="0.6"/>
<line x1="568.2" y1="205.6" x2="568.2" y2="203.01" stroke="#2f8616" stroke-width="0.6"/>
<line x1="568.7" y1="205.6" x2="568.7" y2="198.53" stroke="#2f8616" stroke-width="0.6"/>
<line x1="569.2" y1="205.6" x2="569.2" y2="202.4" stroke="#2f8616" stroke-width="0.6"/>
<line x1="569.7" y1="205.6" x2="569.7" y2="202.5" stroke="#2f8616" stroke-width="0.6"/>
<line x1="570.2" y1="205.6" x2="570.2" y2="201.79" stroke="#2f8616" stroke-width="0.6"/>
<line x1="570.7" y1="205.6" x2="570.7" y2="203.48" stroke="#2f8616" stroke-width="0.6"/>
<line x1="571.2" y1="205.6" x2="571.2" y2="202.61" stroke="#2f8616" stroke-width="0.6"/>
<line x1="571.7" y1="205.6" x2="571.7" y2="201.91" stroke="#2f8616" stroke-width="0.6"/>
<line x1="572.2" y1="205.6" x2="572.2" y2="201.57" stroke="#2f8616" stroke-width="0.6"/>
<line x1="572.7" y1="205.6" x2="572.7" y2="200.89" stroke="#2f8616" stroke-width="0.6"/>
<line x1="573.2" y1="205.6" x2="573.2" y2="198.83" stroke="#2f8616" stroke-width="0.6"/>
<line x1="573.7" y1="205.6" x2="573.7" y2="199.17" stroke="#2f8616" stroke-width="0.6"/>
<line x1="574.2" y1="205.6" x2="574.2" y2="202.51" stroke="#2f8616" stroke-width="0.6"/>
<line x1="574.7" y1="205.6" x2="574.7" y2="201.26" stroke="#2f8616" stroke-width="0.6"/>
<line x1="575.2" y1="205.6" x2="575.2" y2="202.47" stroke="#2f8616" stroke-width="0.6"/>
<line x1="575.7" y1="205.6" x2="575.7" y2="202.99" stroke="#2f8616" stroke-width="0.6"/>
<line x1="576.2" y1="205.6" x2="576.2" y2="202.14" stroke="#2f8616" stroke-width="0.6"/>
<line x1="576.7" y1="205.6" x2="576.7" y2="202.27" stroke="#2f8616" stroke-width="0.6"/>
<line x1="577.2" y1="205.6" x2="577.2" y2="202.15" stroke="#2f8616" stroke-width="0.6"/>
<line x1="577.7" y1="205.6" x2="577.7" y2="201.62" stroke="#2f8616" stroke-width="0.6"/>
<line x1="578.2" y1="205.6" x2="578.2" y2="202.72" stroke="#2f8616" stroke-width="0.6"/>
<line x1="578.7" y1="205.6" x2="578.7" y2="201.68" stroke="#2f8616" stroke-width="0.6"/>
<line x1="579.2" y1="205.6" x2="579.2" y2="201.5" stroke="#2f8616" stroke-width="0.6"/>
<line x1="579.7" y1="205.6" x2="579.7" y2="201.67" stroke="#2f8616" stroke-width="0.6"/>
<line x1="580.2" y1="205.6" x2="580.2" y2="199.4" stroke="#2f8616" stroke-width="0.6"/>
<line x1="580.7" y1="205.6" x2="580.7" y2="201.81" stroke="#2f8616" stroke-width="0.6"/>
<line x1="581.2" y1="205.6" x2="581.2" y2="202.01" stroke="#2f8616" stroke-width="0.6"/>
<line x1="581.7" y1="205.6" x2="581.7" y2="202.35" stroke="#2f8616" stroke-width="0.6"/>
<line x1="582.2" y1="205.6" x2="582.2" y2="201.59" stroke="#2f8616" stroke-width="0.6"/>
<line x1="582.7" y1="205.6" x2="582.7" y2="201.52" stroke="#2f8616" stroke-width="0.6"/>
<line x1="583.2" y1="205.6" x2="583.2" y2="202.09" stroke="#2f8616" stroke-width="0.6"/>
<line x1="583.7" y1="205.6" x2="583.7" y2="198.47" stroke="#2f8616" stroke-width="0.6"/>
<line x1="584.2" y1="205.6" x2="584.2" y2="202.19" stroke="#2f8616" stroke-width="0.6"/>
<line x1="584.7" y1="205.6" x2="584.7" y2="199.35" stroke="#2f8616" stroke-width="0.6"/>
<line x1="585.2" y1="205.6" x2="585.2" y2="199.9" stroke="#2f8616" stroke-width="0.6"/>
<line x1="585.7" y1="205.6" x2="585.7" y2="200.87" stroke="#2f8616" stroke-width="0.6"/>
<line x1="586.2" y1="205.6" x2="586.2" y2="202.49" stroke="#2f8616" stroke-width="0.6"/>
<line x1="586.7" y1="205.6" x2="586.7" y2="200.17" stroke="#2f8616" stroke-width="0.6"/>
<line x1="587.2" y1="205.6" x2="587.2" y2="202.66" stroke="#2f8616" stroke-width="0.6"/>
<line x1="587.7" y1="205.6" x2="587.7" y2="199.48" stroke="#2f8616" stroke-width="0.6"/>
<line x1="588.2" y1="205.6" x2="588.2" y2="198.96" stroke="#2f8616" stroke-width="0.6"/>
<line x1="588.7" y1="205.6" x2="588.7" y2="201.91" stroke="#2f8616" stroke-width="0.6"/>
<line x1="589.2" y1="205.6" x2="589.2" y2="202.97" stroke="#2f8616" stroke-width="0.6"/>
<line x1="589.7" y1="205.6" x2="589.7" y2="202.72" stroke="#2f8616" stroke-width="0.6"/>
<line x1="590.2" y1="205.6" x2="590.2" y2="201.7" stroke="#2f8616" stroke-width="0.6"/>
<line x1="590.7" y1="205.6" x2="590.7" y2="202.78" stroke="#2f8616" stroke-width="0.6"/>
<line x1="591.2" y1="205.6" x2="591.2" y2="202.12" stroke="#2f8616" stroke-width="0.6"/>
<line x1="591.7" y1="205.6" x2="591.7" y2="202.31" stroke="#2f8616" stroke-width="0.6"/>
<line x1="592.2" y1="205.6" x2="592.2" y2="202.14" stroke="#2f8616" stroke-width="0.6"/>
<line x1="592.7" y1="205.6" x2="592.7" y2="202.7" stroke="#2f8616" stroke-width="0.6"/>
<line x1="593.2" y1="205.6" x2="593.2" y2="203.19" stroke="#2f8616" stroke-width="0.6"/>
<line x1="593.7" y1="205.6" x2="593.7" y2="202.68" stroke="#2f8616" stroke-width="0.6"/>
<line x1="594.2" y1="205.6" x2="594.2" y2="198.67" stroke="#2f8616" stroke-width="0.6"/>
<line x1="594.7" y1="205.6" x2="594.7" y2="203.19" stroke="#2f8616" stroke-width="0.6"/>
<line x1="595.2" y1="205.6" x2="595.2" y2="202.66" stroke="#2f8616" stroke-width="0.6"/>
<line x1="595.7" y1="205.6" x2="595.7" y2="201.81" stroke="#2f8616" stroke-width="0.6"/>
<line x1="596.2" y1="205.6" x2="596.2" y2="203.18" stroke="#2f8616" stroke-width="0.6"/>
<line x1="596.7" y1="205.6" x2="596.7" y2="202.71" stroke="#2f8616" stroke-width="0.6"/>
<line x1="597.2" y1="205.6" x2="597.2" y2="202.24" stroke="#2f8616" stroke-width="0.6"/>
<line x1="597.7" y1="205.6" x2="597.7" y2="202.38" stroke="#2f8616" stroke-width="0.6"/>
<line x1="598.2" y1="205.6" x2="598.2" y2="202.27" stroke="#2f8616" stroke-width="0.6"/>
<line x1="598.7" y1="205.6" x2="598.7" y2="199.53" stroke="#2f8616" stroke-width="0.6"/>
<line x1="599.2" y1="205.6" x2="599.2" y2="202.17" stroke="#2f8616" stroke-width="0.6"/>
<line x1="599.7" y1="205.6" x2="599.7" y2="200.54" stroke="#2f8616" stroke-width="0.6"/>
<line x1="600.2" y1="205.6" x2="600.2" y2="202.48" stroke="#2f8616" stroke-width="0.6"/>
<line x1="600.7" y1="205.6" x2="600.7" y2="202.53" stroke="#2f8616" stroke-width="0.6"/>
<line x1="601.2" y1="205.6" x2="601.2" y2="201.3" stroke="#2f8616" stroke-width="0.6"/>
<line x1="601.7" y1="205.6" x2="601.7" y2="202.63" stroke="#2f8616" stroke-width="0.6"/>
<line x1="602.2" y1="205.6" x2="602.2" y2="201.69" stroke="#2f8616" stroke-width="0.6"/>
<line x1="602.7" y1="205.6" x2="602.7" y2="199.07" stroke="#2f8616" stroke-width="0.6"/>
<line x1="603.2" y1="205.6" x2="603.2" y2="201.58" stroke="#2f8616" stroke-width="0.6"/>
<line x1="603.7" y1="205.6" x2="603.7" y2="202.37" stroke="#2f8616" stroke-width="0.6"/>
<line x1="604.2" y1="205.6" x2="604.2" y2="203.29" stroke="#2f8616" stroke-width="0.6"/>
<line x1="604.7" y1="205.6" x2="604.7" y2="202.34" stroke="#2f8616" stroke-width="0.6"/>
<line x1="605.2" y1="205.6" x2="605.2" y2="202.19" stroke="#2f8616" stroke-width="0.6"/>
<line x1="605.7" y1="205.6" x2="605.7" y2="199.84" stroke="#2f8616" stroke-width="0.6"/>
<line x1="606.2" y1="205.6" x2="606.2" y2="200.28" stroke="#2f8616" stroke-width="0.6"/>
<line x1="606.7" y1="205.6" x2="606.7" y2="199.68" stroke="#2f8616" stroke-width="0.6"/>
<line x1="607.2" y1="205.6" x2="607.2" y2="202.14" stroke="#2f8616" stroke-width="0.6"/>
<line x1="607.7" y1="205.6" x2="607.7" y2="203.1" stroke="#2f8616" stroke-width="0.6"/>
<line x1="608.2" y1="205.6" x2="608.2" y2="203.15" stroke="#2f8616" stroke-width="0.6"/>
<line x1="608.7" y1="205.6" x2="608.7" y2="199.68" stroke="#2f8616" stroke-width="0.6"/>
<line x1="609.2" y1="205.6" x2="609.2" y2="203.2" stroke="#2f8616" stroke-width="0.6"/>
<line x1="609.7" y1="205.6" x2="609.7" y2="201.03" stroke="#2f8616" stroke-width="0.6"/>
<line x1="610.2" y1="205.6" x2="610.2" y2="202.42" stroke="#2f8616" stroke-width="0.6"/>
<line x1="610.7" y1="205.6" x2="610.7" y2="201.76" stroke="#2f8616" stroke-width="0.6"/>
<line x1="611.2" y1="205.6" x2="611.2" y2="201.51" stroke="#2f8616" stroke-width="0.6"/>
<line x1="611.7" y1="205.6" x2="611.7" y2="201.14" stroke="#2f8616" stroke-width="0.6"/>
<line x1="612.2" y1="205.6" x2="612.2" y2="200.02" stroke="#2f8616" stroke-width="0.6"/>
<line x1="612.7" y1="205.6" x2="612.7" y2="202.72" stroke="#2f8616" stroke-width="0.6"/>
<line x1="613.2" y1="205.6" x2="613.2" y2="199.05" stroke="#2f8616" stroke-width="0.6"/>
<line x1="613.7" y1="205.6" x2="613.7" y2="201.52" stroke="#2f8616" stroke-width="0.6"/>
<line x1="614.2" y1="205.6" x2="614.2" y2="201.36" stroke="#2f8616" stroke-width="0.6"/>
<line x1="614.7" y1="205.6" x2="614.7" y2="199.27" stroke="#2f8616" stroke-width="0.6"/>
<line x1="615.2" y1="205.6" x2="615.2" y2="202.23" stroke="#2f8616" stroke-width="0.6"/>
<line x1="615.7" y1="205.6" x2="615.7" y2="202.34" stroke="#2f8616" stroke-width="0.6"/>
<line x1="616.2" y1="205.6" x2="616.2" y2="202.56" stroke="#2f8616" stroke-width="0.6"/>
<line x1="616.7" y1="205.6" x2="616.7" y2="200.99" stroke="#2f8616" stroke-width="0.6"/>
<line x1="617.2" y1="205.6" x2="617.2" y2="202.54" stroke="#2f8616" stroke-width="0.6"/>
<line x1="617.7" y1="205.6" x2="617.7" y2="203.02" stroke="#2f8616" stroke-width="0.6"/>
<line x1="618.2" y1="205.6" x2="618.2" y2="202.44" stroke="#2f8616" stroke-width="0.6"/>
<line x1="618.7" y1="205.6" x2="618.7" y2="202.25" stroke="#2f8616" stroke-width="0.6"/>
<line x1="619.2" y1="205.6" x2="619.2" y2="202.13" stroke="#2f8616" stroke-width="0.6"/>
<line x1="619.7" y1="205.6" x2="619.7" y2="201.09" stroke="#2f8616" stroke-width="0.6"/>
<line x1="620.2" y1="205.6" x2="620.2" y2="203.08" stroke="#2f8616" stroke-width="0.6"/>
<line x1="620.7" y1="205.6" x2="620.7" y2="200.26" stroke="#2f8616" stroke-width="0.6"/>
<line x1="621.2" y1="205.6" x2="621.2" y2="202.59" stroke="#2f8616" stroke-width="0.6"/>
<line x1="621.7" y1="205.6" x2="621.7" y2="198.75" stroke="#2f8616" stroke-width="0.6"/>
<line x1="622.2" y1="205.6" x2="622.2" y2="203.09" stroke="#2f8616" stroke-width="0.6"/>
<line x1="622.7" y1="205.6" x2="622.7" y2="202.9" stroke="#2f8616" stroke-width="0.6"/>
<line x1="623.2" y1="205.6" x2="623.2" y2="202.89" stroke="#2f8616" stroke-width="0.6"/>
<line x1="623.7" y1="205.6" x2="623.7" y2="203.43" stroke="#2f8616" stroke-width="0.6"/>
<line x1="624.2" y1="205.6" x2="624.2" y2="203.53" stroke="#2f8616" stroke-width="0.6"/>
<line x1="624.7" y1="205.6" x2="624.7" y2="201.95" stroke="#2f8616" stroke-width="0.6"/>
<line x1="625.2" y1="205.6" x2="625.2" y2="203.42" stroke="#2f8616" stroke-width="0.6"/>
<line x1="625.7" y1="205.6" x2="625.7" y2="203.52" stroke="#2f8616" stroke-width="0.6"/>
<line x1="626.2" y1="205.6" x2="626.2" y2="203.4" stroke="#2f8616" stroke-width="0.6"/>
<line x1="626.7" y1="205.6" x2="626.7" y2="203.05" stroke="#2f8616" stroke-width="0.6"/>
<line x1="627.2" y1="205.6" x2="627.2" y2="202.91" stroke="#2f8616" stroke-width="0.6"/>
<line x1="627.7" y1="205.6" x2="627.7" y2="203.29" stroke="#2f8616" stroke-width="0.6"/>
<line x1="628.2" y1="205.6" x2="628.2" y2="203.2" stroke="#2f8616" stroke-width="0.6"/>
<line x1="628.7" y1="205.6" x2="628.7" y2="202.85" stroke="#2f8616" stroke-width="0.6"/>
<line x1="629.2" y1="205.6" x2="629.2" y2="202.87" stroke="#2f8616" stroke-width="0.6"/>
<line x1="629.7" y1="205.6" x2="629.7" y2="203.11" stroke="#2f8616" stroke-width="0.6"/>
<line x1="630.2" y1="205.6" x2="630.2" y2="202.39" stroke="#2f8616" stroke-width="0.6"/>
<line x1="630.7" y1="205.6" x2="630.7" y2="202.28" stroke="#2f8616" stroke-width="0.6"/>
<line x1="631.2" y1="205.6" x2="631.2" y2="202.94" stroke="#2f8616" stroke-width="0.6"/>
<line x1="631.7" y1="205.6" x2="631.7" y2="203.02" stroke="#2f8616" stroke-width="0.6"/>
<line x1="632.2" y1="205.6" x2="632.2" y2="203.41" stroke="#2f8616" stroke-width="0.6"/>
<line x1="632.7" y1="205.6" x2="632.7" y2="202.7" stroke="#2f8616" stroke-width="0.6"/>
<line x1="633.2" y1="205.6" x2="633.2" y2="203.21" stroke="#2f8616" stroke-width="0.6"/>
<line x1="633.7" y1="205.6" x2="633.7" y2="203.4" stroke="#2f8616" stroke-width="0.6"/>
<line x1="634.2" y1="205.6" x2="634.2" y2="202.76" stroke="#2f8616" stroke-width="0.6"/>
<line x1="634.7" y1="205.6" x2="634.7" y2="202.81" stroke="#2f8616" stroke-width="0.6"/>
<line x1="635.2" y1="205.6" x2="635.2" y2="203.05" stroke="#2f8616" stroke-width="0.6"/>
<line x1="635.7" y1="205.6" x2="635.7" y2="203.12" stroke="#2f8616" stroke-width="0.6"/>
<line x1="636.2" y1="205.6" x2="636.2" y2="202.75" stroke="#2f8616" stroke-width="0.6"/>
<line x1="636.7" y1="205.6" x2="636.7" y2="202.75" stroke="#2f8616" stroke-width="0.6"/>
<line x1="637.2" y1="205.6" x2="637.2" y2="202.9" stroke="#2f8616" stroke-width="0.6"/>
<line x1="637.7" y1="205.6" x2="637.7" y2="202.7" stroke="#2f8616" stroke-width="0.6"/>
<line x1="638.2" y1="205.6" x2="638.2" y2="203.34" stroke="#2f8616" stroke-width="0.6"/>
<line x1="638.7" y1="205.6" x2="638.7" y2="203.43" stroke="#2f8616" stroke-width="0.6"/>
<line x1="639.2" y1="205.6" x2="639.2" y2="202.95" stroke="#2f8616" stroke-width="0.6"/>
<line x1="639.7" y1="205.6" x2="639.7" y2="203.13" stroke="#2f8616" stroke-width="0.6"/>
<line x1="640.2" y1="205.6" x2="640.2" y2="203.56" stroke="#2f8616" stroke-width="0.6"/>
<line x1="640.7" y1="205.6" x2="640.7" y2="203.35" stroke="#2f8616" stroke-width="0.6"/>
<line x1="641.2" y1="205.6" x2="641.2" y2="203.29" stroke="#2f8616" stroke-width="0.6"/>
<line x1="641.7" y1="205.6" x2="641.7" y2="202.93" stroke="#2f8616" stroke-width="0.6"/>
<line x1="642.2" y1="205.6" x2="642.2" y2="203.51" stroke="#2f8616" stroke-width="0.6"/>
<line x1="642.7" y1="205.6" x2="642.7" y2="202.98" stroke="#2f8616" stroke-width="0.6"/>
<line x1="643.2" y1="205.6" x2="643.2" y2="202.91" stroke="#2f8616" stroke-width="0.6"/>
<line x1="643.7" y1="205.6" x2="643.7" y2="202.72" stroke="#2f8616" stroke-width="0.6"/>
<line x1="644.2" y1="205.6" x2="644.2" y2="202.81" stroke="#2f8616" stroke-width="0.6"/>
<line x1="644.7" y1="205.6" x2="644.7" y2="203.45" stroke="#2f8616" stroke-width="0.6"/>
<line x1="645.2" y1="205.6" x2="645.2" y2="203.18" stroke="#2f8616" stroke-width="0.6"/>
<line x1="645.7" y1="205.6" x2="645.7" y2="203.11" stroke="#2f8616" stroke-width="0.6"/>
<line x1="646.2" y1="205.6" x2="646.2" y2="202.83" stroke="#2f8616" stroke-width="0.6"/>
<line x1="646.7" y1="205.6" x2="646.7" y2="203.18" stroke="#2f8616" stroke-width="0.6"/>
<line x1="647.2" y1="205.6" x2="647.2" y2="202.87" stroke="#2f8616" stroke-width="0.6"/>
<line x1="647.7" y1="205.6" x2="647.7" y2="203.38" stroke="#2f8616" stroke-width="0.6"/>
<line x1="648.2" y1="205.6" x2="648.2" y2="203.59" stroke="#2f8616" stroke-width="0.6"/>
<line x1="648.7" y1="205.6" x2="648.7" y2="203.12" stroke="#2f8616" stroke-width="0.6"/>
<line x1="649.2" y1="205.6" x2="649.2" y2="203.12" stroke="#2f8616" stroke-width="0.6"/>
<line x1="649.7" y1="205.6" x2="649.7" y2="202.91" stroke="#2f8616" stroke-width="0.6"/>
<line x1="650.2" y1="205.6" x2="650.2" y2="202.72" stroke="#2f8616" stroke-width="0.6"/>
<line x1="650.7" y1="205.6" x2="650.7" y2="202.42" stroke="#2f8616" stroke-width="0.6"/>
<line x1="651.2" y1="205.6" x2="651.2" y2="203.59" stroke="#2f8616" stroke-width="0.6"/>
<line x1="651.7" y1="205.6" x2="651.7" y2="202.42" stroke="#2f8616" stroke-width="0.6"/>
<line x1="652.2" y1="205.6" x2="652.2" y2="203.52" stroke="#2f8616" stroke-width="0.6"/>
<line x1="652.7" y1="205.6" x2="652.7" y2="203.38" stroke="#2f8616" stroke-width="0.6"/>
<line x1="653.2" y1="205.6" x2="653.2" y2="203.22" stroke="#2f8616" stroke-width="0.6"/>
<line x1="653.7" y1="205.6" x2="653.7" y2="203.56" stroke="#2f8616" stroke-width="0.6"/>
<line x1="654.2" y1="205.6" x2="654.2" y2="203.04" stroke="#2f8616" stroke-width="0.6"/>
<line x1="654.7" y1="205.6" x2="654.7" y2="202.78" stroke="#2f8616" stroke-width="0.6"/>
<line x1="655.2" y1="205.6" x2="655.2" y2="203.38" stroke="#2f8616" stroke-width="0.6"/>
<line x1="655.7" y1="205.6" x2="655.7" y2="202.92" stroke="#2f8616" stroke-width="0.6"/>
<line x1="656.2" y1="205.6" x2="656.2" y2="203.14" stroke="#2f8616" stroke-width="0.6"/>
<line x1="656.7" y1="205.6" x2="656.7" y2="203.1" stroke="#2f8616" stroke-width="0.6"/>
<line x1="657.2" y1="205.6" x2="657.2" y2="202.42" stroke="#2f8616" stroke-width="0.6"/>
<line x1="657.7" y1="205.6" x2="657.7" y2="202.79" stroke="#2f8616" stroke-width="0.6"/>
<line x1="658.2" y1="205.6" x2="658.2" y2="203.18" stroke="#2f8616" stroke-width="0.6"/>
<line x1="658.7" y1="205.6" x2="658.7" y2="202.76" stroke="#2f8616" stroke-width="0.6"/>
<line x1="659.2" y1="205.6" x2="659.2" y2="203.06" stroke="#2f8616" stroke-width="0.6"/>
<line x1="659.7" y1="205.6" x2="659.7" y2="203.13" stroke="#2f8616" stroke-width="0.6"/>
<line x1="660.2" y1="205.6" x2="660.2" y2="203.44" stroke="#2f8616" stroke-width="0.6"/>
<line x1="660.7" y1="205.6" x2="660.7" y2="202.71" stroke="#2f8616" stroke-width="0.6"/>
<line x1="661.2" y1="205.6" x2="661.2" y2="203.23" stroke="#2f8616" stroke-width="0.6"/>
<line x1="661.7" y1="205.6" x2="661.7" y2="203.19" stroke="#2f8616" stroke-width="0.6"/>
<line x1="662.2" y1="205.6" x2="662.2" y2="203.19" stroke="#2f8616" stroke-width="0.6"/>
<line x1="662.7" y1="205.6" x2="662.7" y2="203.46" stroke="#2f8616" stroke-width="0.6"/>
<line x1="663.2" y1="205.6" x2="663.2" y2="203.13" stroke="#2f8616" stroke-width="0.6"/>
<line x1="663.7" y1="205.6" x2="663.7" y2="202.83" stroke="#2f8616" stroke-width="0.6"/>
<line x1="664.2" y1="205.6" x2="664.2" y2="202.76" stroke="#2f8616" stroke-width="0.6"/>
<line x1="664.7" y1="205.6" x2="664.7" y2="203.57" stroke="#2f8616" stroke-width="0.6"/>
<line x1="665.2" y1="205.6" x2="665.2" y2="203.11" stroke="#2f8616" stroke-width="0.6"/>
<line x1="665.7" y1="205.6" x2="665.7" y2="203.35" stroke="#2f8616" stroke-width="0.6"/>
<line x1="666.2" y1="205.6" x2="666.2" y2="202.78" stroke="#2f8616" stroke-width="0.6"/>
<line x1="666.7" y1="205.6" x2="666.7" y2="203" stroke="#2f8616" stroke-width="0.6"/>
<line x1="667.2" y1="205.6" x2="667.2" y2="203.14" stroke="#2f8616" stroke-width="0.6"/>
<line x1="667.7" y1="205.6" x2="667.7" y2="202.74" stroke="#2f8616" stroke-width="0.6"/>
<line x1="668.2" y1="205.6" x2="668.2" y2="203.42" stroke="#2f8616" stroke-width="0.6"/>
<line x1="668.7" y1="205.6" x2="668.7" y2="203.44" stroke="#2f8616" stroke-width="0.6"/>
<line x1="669.2" y1="205.6" x2="669.2" y2="202.85" stroke="#2f8616" stroke-width="0.6"/>
<line x1="669.7" y1="205.6" x2="669.7" y2="203.36" stroke="#2f8616" stroke-width="0.6"/>
<line x1="670.2" y1="205.6" x2="670.2" y2="202.75" stroke="#2f8616" stroke-width="0.6"/>
<line x1="670.7" y1="205.6" x2="670.7" y2="203.25" stroke="#2f8616" stroke-width="0.6"/>
<line x1="671.2" y1="205.6" x2="671.2" y2="203.48" stroke="#2f8616" stroke-width="0.6"/>
<line x1="671.7" y1="205.6" x2="671.7" y2="202.35" stroke="#2f8616" stroke-width="0.6"/>
<line x1="672.2" y1="205.6" x2="672.2" y2="202.58" stroke="#2f8616" stroke-width="0.6"/>
<line x1="672.7" y1="205.6" x2="672.7" y2="202.93" stroke="#2f8616" stroke-width="0.6"/>
<line x1="673.2" y1="205.6" x2="673.2" y2="203.03" stroke="#2f8616" stroke-width="0.6"/>
<line x1="673.7" y1="205.6" x2="673.7" y2="203.6" stroke="#2f8616" stroke-width="0.6"/>
<line x1="674.2" y1="205.6" x2="674.2" y2="202.31" stroke="#2f8616" stroke-width="0.6"/>
<line x1="674.7" y1="205.6" x2="674.7" y2="203.17" stroke="#2f8616" stroke-width="0.6"/>
<line x1="675.2" y1="205.6" x2="675.2" y2="202.73" stroke="#2f8616" stroke-width="0.6"/>
<line x1="675.7" y1="205.6" x2="675.7" y2="202.74" stroke="#2f8616" stroke-width="0.6"/>
<line x1="676.2" y1="205.6" x2="676.2" y2="202.79" stroke="#2f8616" stroke-width="0.6"/>
<line x1="676.7" y1="205.6" x2="676.7" y2="202.71" stroke="#2f8616" stroke-width="0.6"/>
<line x1="677.2" y1="205.6" x2="677.2" y2="203.02" stroke="#2f8616" stroke-width="0.6"/>
<line x1="677.7" y1="205.6" x2="677.7" y2="203.55" stroke="#2f8616" stroke-width="0.6"/>
<line x1="678.2" y1="205.6" x2="678.2" y2="203.44" stroke="#2f8616" stroke-width="0.6"/>
<line x1="678.7" y1="205.6" x2="678.7" y2="202.86" stroke="#2f8616" stroke-width="0.6"/>
<line x1="679.2" y1="205.6" x2="679.2" y2="203.56" stroke="#2f8616" stroke-width="0.6"/>
<line x1="679.7" y1="205.6" x2="679.7" y2="203.12" stroke="#2f8616" stroke-width="0.6"/>
<line x1="680.2" y1="205.6" x2="680.2" y2="203.5" stroke="#2f8616" stroke-width="0.6"/>
<line x1="680.7" y1="205.6" x2="680.7" y2="202.71" stroke="#2f8616" stroke-width="0.6"/>
<line x1="681.2" y1="205.6" x2="681.2" y2="203.48" stroke="#2f8616" stroke-width="0.6"/>
<line x1="681.7" y1="205.6" x2="681.7" y2="203.49" stroke="#2f8616" stroke-width="0.6"/>
<line x1="682.2" y1="205.6" x2="682.2" y2="202.47" stroke="#2f8616" stroke-width="0.6"/>
<line x1="682.7" y1="205.6" x2="682.7" y2="202.75" stroke="#2f8616" stroke-width="0.6"/>
<line x1="683.2" y1="205.6" x2="683.2" y2="202.72" stroke="#2f8616" stroke-width="0.6"/>
<line x1="683.7" y1="205.6" x2="683.7" y2="203.28" stroke="#2f8616" stroke-width="0.6"/>
<line x1="684.2" y1="205.6" x2="684.2" y2="203.16" stroke="#2f8616" stroke-width="0.6"/>
<line x1="684.7" y1="205.6" x2="684.7" y2="202.77" stroke="#2f8616" stroke-width="0.6"/>
<line x1="685.2" y1="205.6" x2="685.2" y2="202.93" stroke="#2f8616" stroke-width="0.6"/>
<line x1="685.7" y1="205.6" x2="685.7" y2="203.09" stroke="#2f8616" stroke-width="0.6"/>
<line x1="686.2" y1="205.6" x2="686.2" y2="203.12" stroke="#2f8616" stroke-width="0.6"/>
<line x1="686.7" y1="205.6" x2="686.7" y2="203.12" stroke="#2f8616" stroke-width="0.6"/>
<line x1="687.2" y1="205.6" x2="687.2" y2="203.42" stroke="#2f8616" stroke-width="0.6"/>
<line x1="687.7" y1="205.6" x2="687.7" y2="202.76" stroke="#2f8616" stroke-width="0.6"/>
<line x1="688.2" y1="205.6" x2="688.2" y2="203.44" stroke="#2f8616" stroke-width="0.6"/>
<line x1="688.7" y1="205.6" x2="688.7" y2="202.84" stroke="#2f8616" stroke-width="0.6"/>
<line x1="689.2" y1="205.6" x2="689.2" y2="203.36" stroke="#2f8616" stroke-width="0.6"/>
<line x1="689.7" y1="205.6" x2="689.7" y2="203.55" stroke="#2f8616" stroke-width="0.6"/>
<line x1="690.2" y1="205.6" x2="690.2" y2="203.23" stroke="#2f8616" stroke-width="0.6"/>
<line x1="690.7" y1="205.6" x2="690.7" y2="202.11" stroke="#2f8616" stroke-width="0.6"/>
<line x1="691.2" y1="205.6" x2="691.2" y2="202.89" stroke="#2f8616" stroke-width="0.6"/>
<line x1="691.7" y1="205.6" x2="691.7" y2="202.98" stroke="#2f8616" stroke-width="0.6"/>
<line x1="692.2" y1="205.6" x2="692.2" y2="202.91" stroke="#2f8616" stroke-width="0.6"/>
<line x1="692.7" y1="205.6" x2="692.7" y2="203.11" stroke="#2f8616" stroke-width="0.6"/>
<line x1="693.2" y1="205.6" x2="693.2" y2="203.47" stroke="#2f8616" stroke-width="0.6"/>
<line x1="693.7" y1="205.6" x2="693.7" y2="203.31" stroke="#2f8616" stroke-width="0.6"/>
<line x1="694.2" y1="205.6" x2="694.2" y2="203.26" stroke="#2f8616" stroke-width="0.6"/>
<line x1="694.7" y1="205.6" x2="694.7" y2="203.28" stroke="#2f8616" stroke-width="0.6"/>
<line x1="695.2" y1="205.6" x2="695.2" y2="202.72" stroke="#2f8616" stroke-width="0.6"/>
<line x1="695.7" y1="205.6" x2="695.7" y2="202.82" stroke="#2f8616" stroke-width="0.6"/>
<line x1="696.2" y1="205.6" x2="696.2" y2="203.34" stroke="#2f8616" stroke-width="0.6"/>
<line x1="696.7" y1="205.6" x2="696.7" y2="203.36" stroke="#2f8616" stroke-width="0.6"/>
<line x1="697.2" y1="205.6" x2="697.2" y2="203.15" stroke="#2f8616" stroke-width="0.6"/>
<line x1="697.7" y1="205.6" x2="697.7" y2="203.29" stroke="#2f8616" stroke-width="0.6"/>
<line x1="698.2" y1="205.6" x2="698.2" y2="203.35" stroke="#2f8616" stroke-width="0.6"/>
<line x1="698.7" y1="205.6" x2="698.7" y2="203.19" stroke="#2f8616" stroke-width="0.6"/>
<line x1="699.2" y1="205.6" x2="699.2" y2="203.12" stroke="#2f8616" stroke-width="0.6"/>
<line x1="699.7" y1="205.6" x2="699.7" y2="202.71" stroke="#2f8616" stroke-width="0.6"/>
<line x1="700.2" y1="205.6" x2="700.2" y2="203.14" stroke="#2f8616" stroke-width="0.6"/>
<line x1="700.7" y1="205.6" x2="700.7" y2="202.52" stroke="#2f8616" stroke-width="0.6"/>
<line x1="701.2" y1="205.6" x2="701.2" y2="203.2" stroke="#2f8616" stroke-width="0.6"/>
<line x1="701.7" y1="205.6" x2="701.7" y2="202.52" stroke="#2f8616" stroke-width="0.6"/>
<line x1="702.2" y1="205.6" x2="702.2" y2="202.72" stroke="#2f8616" stroke-width="0.6"/>
<line x1="702.7" y1="205.6" x2="702.7" y2="202.49" stroke="#2f8616" stroke-width="0.6"/>
<line x1="703.2" y1="205.6" x2="703.2" y2="202.97" stroke="#2f8616" stroke-width="0.6"/>
<line x1="703.7" y1="205.6" x2="703.7" y2="202.48" stroke="#2f8616" stroke-width="0.6"/>
<line x1="704.2" y1="205.6" x2="704.2" y2="202.88" stroke="#2f8616" stroke-width="0.6"/>
<line x1="704.7" y1="205.6" x2="704.7" y2="203.14" stroke="#2f8616" stroke-width="0.6"/>
<line x1="705.2" y1="205.6" x2="705.2" y2="203.27" stroke="#2f8616" stroke-width="0.6"/>
<line x1="705.7" y1="205.6" x2="705.7" y2="202.74" stroke="#2f8616" stroke-width="0.6"/>
<line x1="706.2" y1="205.6" x2="706.2" y2="202.37" stroke="#2f8616" stroke-width="0.6"/>
<line x1="706.7" y1="205.6" x2="706.7" y2="202.45" stroke="#2f8616" stroke-width="0.6"/>
<line x1="707.2" y1="205.6" x2="707.2" y2="202.19" stroke="#2f8616" stroke-width="0.6"/>
<line x1="707.7" y1="205.6" x2="707.7" y2="202.46" stroke="#2f8616" stroke-width="0.6"/>
<line x1="708.2" y1="205.6" x2="708.2" y2="202.6" stroke="#2f8616" stroke-width="0.6"/>
<line x1="708.7" y1="205.6" x2="708.7" y2="203.04" stroke="#2f8616" stroke-width="0.6"/>
<line x1="709.2" y1="205.6" x2="709.2" y2="201.79" stroke="#2f8616" stroke-width="0.6"/>
<line x1="709.7" y1="205.6" x2="709.7" y2="202.89" stroke="#2f8616" stroke-width="0.6"/>
<line x1="710.2" y1="205.6" x2="710.2" y2="202.62" stroke="#2f8616" stroke-width="0.6"/>
<line x1="710.7" y1="205.6" x2="710.7" y2="202.33" stroke="#2f8616" stroke-width="0.6"/>
<line x1="711.2" y1="205.6" x2="711.2" y2="202.58" stroke="#2f8616" stroke-width="0.6"/>
<line x1="711.7" y1="205.6" x2="711.7" y2="202.86" stroke="#2f8616" stroke-width="0.6"/>
<line x1="712.2" y1="205.6" x2="712.2" y2="203.21" stroke="#2f8616" stroke-width="0.6"/>
<line x1="712.7" y1="205.6" x2="712.7" y2="202.5" stroke="#2f8616" stroke-width="0.6"/>
<line x1="713.2" y1="205.6" x2="713.2" y2="202.43" stroke="#2f8616" stroke-width="0.6"/>
<line x1="713.7" y1="205.6" x2="713.7" y2="203.34" stroke="#2f8616" stroke-width="0.6"/>
<line x1="714.2" y1="205.6" x2="714.2" y2="201.06" stroke="#2f8616" stroke-width="0.6"/>
<line x1="714.7" y1="205.6" x2="714.7" y2="202.87" stroke="#2f8616" stroke-width="0.6"/>
<line x1="715.2" y1="205.6" x2="715.2" y2="202.69" stroke="#2f8616" stroke-width="0.6"/>
<line x1="715.7" y1="205.6" x2="715.7" y2="202.75" stroke="#2f8616" stroke-width="0.6"/>
<line x1="716.2" y1="205.6" x2="716.2" y2="202.86" stroke="#2f8616" stroke-width="0.6"/>
<line x1="716.7" y1="205.6" x2="716.7" y2="202.31" stroke="#2f8616" stroke-width="0.6"/>
<line x1="717.2" y1="205.6" x2="717.2" y2="202.35" stroke="#2f8616" stroke-width="0.6"/>
<line x1="717.7" y1="205.6" x2="717.7" y2="202.12" stroke="#2f8616" stroke-width="0.6"/>
<line x1="718.2" y1="205.6" x2="718.2" y2="202.44" stroke="#2f8616" stroke-width="0.6"/>
<line x1="718.7" y1="205.6" x2="718.7" y2="203.23" stroke="#2f8616" stroke-width="0.6"/>
<line x1="719.2" y1="205.6" x2="719.2" y2="202.75" stroke="#2f8616" stroke-width="0.6"/>
<line x1="719.7" y1="205.6" x2="719.7" y2="202.59" stroke="#2f8616" stroke-width="0.6"/>
<line x1="720.2" y1="205.6" x2="720.2" y2="202.29" stroke="#2f8616" stroke-width="0.6"/>
<line x1="720.7" y1="205.6" x2="720.7" y2="202.78" stroke="#2f8616" stroke-width="0.6"/>
<line x1="721.2" y1="205.6" x2="721.2" y2="203.08" stroke="#2f8616" stroke-width="0.6"/>
<line x1="721.7" y1="205.6" x2="721.7" y2="202.75" stroke="#2f8616" stroke-width="0.6"/>
<line x1="722.2" y1="205.6" x2="722.2" y2="203.1" stroke="#2f8616" stroke-width="0.6"/>
<line x1="722.7" y1="205.6" x2="722.7" y2="202.98" stroke="#2f8616" stroke-width="0.6"/>
<line x1="723.2" y1="205.6" x2="723.2" y2="202.37" stroke="#2f8616" stroke-width="0.6"/>
<line x1="723.7" y1="205.6" x2="723.7" y2="202.38" stroke="#2f8616" stroke-width="0.6"/>
<line x1="724.2" y1="205.6" x2="724.2" y2="202.71" stroke="#2f8616" stroke-width="0.6"/>
<line x1="724.7" y1="205.6" x2="724.7" y2="202.98" stroke="#2f8616" stroke-width="0.6"/>
<line x1="725.2" y1="205.6" x2="725.2" y2="202.45" stroke="#2f8616" stroke-width="0.6"/>
<line x1="725.7" y1="205.6" x2="725.7" y2="202.27" stroke="#2f8616" stroke-width="0.6"/>
<line x1="726.2" y1="205.6" x2="726.2" y2="202.25" stroke="#2f8616" stroke-width="0.6"/>
<line x1="726.7" y1="205.6" x2="726.7" y2="201.82" stroke="#2f8616" stroke-width="0.6"/>
<line x1="727.2" y1="205.6" x2="727.2" y2="202.52" stroke="#2f8616" stroke-width="0.6"/>
<line x1="727.7" y1="205.6" x2="727.7" y2="202.77" stroke="#2f8616" stroke-width="0.6"/>
<line x1="728.2" y1="205.6" x2="728.2" y2="202.74" stroke="#2f8616" stroke-width="0.6"/>
<line x1="728.7" y1="205.6" x2="728.7" y2="202.39" stroke="#2f8616" stroke-width="0.6"/>
<line x1="729.2" y1="205.6" x2="729.2" y2="202.67" stroke="#2f8616" stroke-width="0.6"/>
<line x1="729.7" y1="205.6" x2="729.7" y2="202.77" stroke="#2f8616" stroke-width="0.6"/>
<line x1="730.2" y1="205.6" x2="730.2" y2="202.64" stroke="#2f8616" stroke-width="0.6"/>
<line x1="730.7" y1="205.6" x2="730.7" y2="202.31" stroke="#2f8616" stroke-width="0.6"/>
<line x1="731.2" y1="205.6" x2="731.2" y2="202.04" stroke="#2f8616" stroke-width="0.6"/>
<line x1="731.7" y1="205.6" x2="731.7" y2="201.59" stroke="#2f8616" stroke-width="0.6"/>
<line x1="732.2" y1="205.6" x2="732.2" y2="202.77" stroke="#2f8616" stroke-width="0.6"/>
<line x1="732.7" y1="205.6" x2="732.7" y2="202.87" stroke="#2f8616" stroke-width="0.6"/>
<line x1="733.2" y1="205.6" x2="733.2" y2="202.75" stroke="#2f8616" stroke-width="0.6"/>
<line x1="733.7" y1="205.6" x2="733.7" y2="203.16" stroke="#2f8616" stroke-width="0.6"/>
<line x1="734.2" y1="205.6" x2="734.2" y2="202.88" stroke="#2f8616" stroke-width="0.6"/>
<line x1="734.7" y1="205.6" x2="734.7" y2="203.03" stroke="#2f8616" stroke-width="0.6"/>
<line x1="735.2" y1="205.6" x2="735.2" y2="202.71" stroke="#2f8616" stroke-width="0.6"/>
<line x1="735.7" y1="205.6" x2="735.7" y2="202.97" stroke="#2f8616" stroke-width="0.6"/>
<line x1="736.2" y1="205.6" x2="736.2" y2="202.31" stroke="#2f8616" stroke-width="0.6"/>
<line x1="736.7" y1="205.6" x2="736.7" y2="202.52" stroke="#2f8616" stroke-width="0.6"/>
<line x1="737.2" y1="205.6" x2="737.2" y2="201.9" stroke="#2f8616" stroke-width="0.6"/>
<line x1="737.7" y1="205.6" x2="737.7" y2="202.93" stroke="#2f8616" stroke-width="0.6"/>
<line x1="738.2" y1="205.6" x2="738.2" y2="202.22" stroke="#2f8616" stroke-width="0.6"/>
<line x1="738.7" y1="205.6" x2="738.7" y2="202.94" stroke="#2f8616" stroke-width="0.6"/>
<line x1="739.2" y1="205.6" x2="739.2" y2="202.05" stroke="#2f8616" stroke-width="0.6"/>
<line x1="739.7" y1="205.6" x2="739.7" y2="202.15" stroke="#2f8616" stroke-width="0.6"/>
<line x1="740.2" y1="205.6" x2="740.2" y2="202.51" stroke="#2f8616" stroke-width="0.6"/>
<line x1="740.7" y1="205.6" x2="740.7" y2="202.04" stroke="#2f8616" stroke-width="0.6"/>
<line x1="741.2" y1="205.6" x2="741.2" y2="203.21" stroke="#2f8616" stroke-width="0.6"/>
<line x1="741.7" y1="205.6" x2="741.7" y2="202.36" stroke="#2f8616" stroke-width="0.6"/>
<line x1="742.2" y1="205.6" x2="742.2" y2="202.31" stroke="#2f8616" stroke-width="0.6"/>
<line x1="742.7" y1="205.6" x2="742.7" y2="202.98" stroke="#2f8616" stroke-width="0.6"/>
<line x1="743.2" y1="205.6" x2="743.2" y2="202.76" stroke="#2f8616" stroke-width="0.6"/>
<line x1="743.7" y1="205.6" x2="743.7" y2="202.98" stroke="#2f8616" stroke-width="0.6"/>
<line x1="744.2" y1="205.6" x2="744.2" y2="202.96" stroke="#2f8616" stroke-width="0.6"/>
<line x1="744.7" y1="205.6" x2="744.7" y2="202.09" stroke="#2f8616" stroke-width="0.6"/>
<line x1="745.2" y1="205.6" x2="745.2" y2="201.7" stroke="#2f8616" stroke-width="0.6"/>
<line x1="745.7" y1="205.6" x2="745.7" y2="202.63" stroke="#2f8616" stroke-width="0.6"/>
<line x1="746.2" y1="205.6" x2="746.2" y2="202.28" stroke="#2f8616" stroke-width="0.6"/>
<line x1="746.7" y1="205.6" x2="746.7" y2="202.45" stroke="#2f8616" stroke-width="0.6"/>
<line x1="747.2" y1="205.6" x2="747.2" y2="202.85" stroke="#2f8616" stroke-width="0.6"/>
<line x1="747.7" y1="205.6" x2="747.7" y2="202.68" stroke="#2f8616" stroke-width="0.6"/>
<line x1="748.2" y1="205.6" x2="748.2" y2="202.64" stroke="#2f8616" stroke-width="0.6"/>
<line x1="748.7" y1="205.6" x2="748.7" y2="202.35" stroke="#2f8616" stroke-width="0.6"/>
<line x1="749.2" y1="205.6" x2="749.2" y2="202.42" stroke="#2f8616" stroke-width="0.6"/>
<line x1="749.7" y1="205.6" x2="749.7" y2="202.97" stroke="#2f8616" stroke-width="0.6"/>
<line x1="750.2" y1="205.6" x2="750.2" y2="202.32" stroke="#2f8616" stroke-width="0.6"/>
<line x1="750.7" y1="205.6" x2="750.7" y2="202" stroke="#2f8616" stroke-width="0.6"/>
<line x1="751.2" y1="205.6" x2="751.2" y2="202.85" stroke="#2f8616" stroke-width="0.6"/>
<line x1="751.7" y1="205.6" x2="751.7" y2="202.8" stroke="#2f8616" stroke-width="0.6"/>
<line x1="752.2" y1="205.6" x2="752.2" y2="202.88" stroke="#2f8616" stroke-width="0.6"/>
<line x1="752.7" y1="205.6" x2="752.7" y2="203.31" stroke="#2f8616" stroke-width="0.6"/>
<line x1="753.2" y1="205.6" x2="753.2" y2="202.82" stroke="#2f8616" stroke-width="0.6"/>
<line x1="753.7" y1="205.6" x2="753.7" y2="203.04" stroke="#2f8616" stroke-width="0.6"/>
<line x1="754.2" y1="205.6" x2="754.2" y2="203.4" stroke="#2f8616" stroke-width="0.6"/>
<line x1="754.7" y1="205.6" x2="754.7" y2="202.4" stroke="#2f8616" stroke-width="0.6"/>
<line x1="755.2" y1="205.6" x2="755.2" y2="202.4" stroke="#2f8616" stroke-width="0.6"/>
<line x1="755.7" y1="205.6" x2="755.7" y2="202.85" stroke="#2f8616" stroke-width="0.6"/>
<line x1="756.2" y1="205.6" x2="756.2" y2="203.09" stroke="#2f8616" stroke-width="0.6"/>
<line x1="756.7" y1="205.6" x2="756.7" y2="202.99" stroke="#2f8616" stroke-width="0.6"/>
<line x1="757.2" y1="205.6" x2="757.2" y2="202.93" stroke="#2f8616" stroke-width="0.6"/>
<line x1="757.7" y1="205.6" x2="757.7" y2="202.37" stroke="#2f8616" stroke-width="0.6"/>
<line x1="758.2" y1="205.6" x2="758.2" y2="202.25" stroke="#2f8616" stroke-width="0.6"/>
<line x1="758.7" y1="205.6" x2="758.7" y2="202.34" stroke="#2f8616" stroke-width="0.6"/>
<line x1="759.2" y1="205.6" x2="759.2" y2="202.47" stroke="#2f8616" stroke-width="0.6"/>
<line x1="759.7" y1="205.6" x2="759.7" y2="202.15" stroke="#2f8616" stroke-width="0.6"/>
<line x1="760.2" y1="205.6" x2="760.2" y2="203.28" stroke="#2f8616" stroke-width="0.6"/>
<line x1="760.7" y1="205.6" x2="760.7" y2="202.9" stroke="#2f8616" stroke-width="0.6"/>
<line x1="761.2" y1="205.6" x2="761.2" y2="203.4" stroke="#2f8616" stroke-width="0.6"/>
<line x1="761.7" y1="205.6" x2="761.7" y2="201.02" stroke="#2f8616" stroke-width="0.6"/>
<line x1="762.2" y1="205.6" x2="762.2" y2="203.05" stroke="#2f8616" stroke-width="0.6"/>
<line x1="762.7" y1="205.6" x2="762.7" y2="202.34" stroke="#2f8616" stroke-width="0.6"/>
<line x1="763.2" y1="205.6" x2="763.2" y2="203.06" stroke="#2f8616" stroke-width="0.6"/>
<line x1="763.7" y1="205.6" x2="763.7" y2="202.02" stroke="#2f8616" stroke-width="0.6"/>
<line x1="764.2" y1="205.6" x2="764.2" y2="202.13" stroke="#2f8616" stroke-width="0.6"/>
<line x1="764.7" y1="205.6" x2="764.7" y2="202.68" stroke="#2f8616" stroke-width="0.6"/>
<line x1="765.2" y1="205.6" x2="765.2" y2="201.91" stroke="#2f8616" stroke-width="0.6"/>
<line x1="765.7" y1="205.6" x2="765.7" y2="203.14" stroke="#2f8616" stroke-width="0.6"/>
<line x1="766.2" y1="205.6" x2="766.2" y2="202.61" stroke="#2f8616" stroke-width="0.6"/>
<line x1="766.7" y1="205.6" x2="766.7" y2="202.56" stroke="#2f8616" stroke-width="0.6"/>
<line x1="767.2" y1="205.6" x2="767.2" y2="202.39" stroke="#2f8616" stroke-width="0.6"/>
<line x1="767.7" y1="205.6" x2="767.7" y2="202.89" stroke="#2f8616" stroke-width="0.6"/>
<line x1="768.2" y1="205.6" x2="768.2" y2="203.06" stroke="#2f8616" stroke-width="0.6"/>
<line x1="768.7" y1="205.6" x2="768.7" y2="202.86" stroke="#2f8616" stroke-width="0.6"/>
<line x1="769.2" y1="205.6" x2="769.2" y2="203.26" stroke="#2f8616" stroke-width="0.6"/>
<line x1="769.7" y1="205.6" x2="769.7" y2="202.61" stroke="#2f8616" stroke-width="0.6"/>
<line x1="770.2" y1="205.6" x2="770.2" y2="202.75" stroke="#2f8616" stroke-width="0.6"/>
<line x1="770.7" y1="205.6" x2="770.7" y2="202.85" stroke="#2f8616" stroke-width="0.6"/>
<line x1="771.2" y1="205.6" x2="771.2" y2="202.93" stroke="#2f8616" stroke-width="0.6"/>
<line x1="771.7" y1="205.6" x2="771.7" y2="202.57" stroke="#2f8616" stroke-width="0.6"/>
<line x1="772.2" y1="205.6" x2="772.2" y2="202.97" stroke="#2f8616" stroke-width="0.6"/>
<line x1="772.7" y1="205.6" x2="772.7" y2="202.6" stroke="#2f8616" stroke-width="0.6"/>
<line x1="773.2" y1="205.6" x2="773.2" y2="201.97" stroke="#2f8616" stroke-width="0.6"/>
<line x1="773.7" y1="205.6" x2="773.7" y2="202" stroke="#2f8616" stroke-width="0.6"/>
<line x1="774.2" y1="205.6" x2="774.2" y2="202.67" stroke="#2f8616" stroke-width="0.6"/>
<line x1="774.7" y1="205.6" x2="774.7" y2="202.64" stroke="#2f8616" stroke-width="0.6"/>
<line x1="775.2" y1="205.6" x2="775.2" y2="202.52" stroke="#2f8616" stroke-width="0.6"/>
<line x1="775.7" y1="205.6" x2="775.7" y2="203.01" stroke="#2f8616" stroke-width="0.6"/>
<line x1="776.2" y1="205.6" x2="776.2" y2="202.57" stroke="#2f8616" stroke-width="0.6"/>
<line x1="776.7" y1="205.6" x2="776.7" y2="202.97" stroke="#2f8616" stroke-width="0.6"/>
<line x1="777.2" y1="205.6" x2="777.2" y2="203.3" stroke="#2f8616" stroke-width="0.6"/>
<line x1="777.7" y1="205.6" x2="777.7" y2="203" stroke="#2f8616" stroke-width="0.6"/>
<line x1="778.2" y1="205.6" x2="778.2" y2="203.3" stroke="#2f8616" stroke-width="0.6"/>
<line x1="778.7" y1="205.6" x2="778.7" y2="203.19" stroke="#2f8616" stroke-width="0.6"/>
<line x1="779.2" y1="205.6" x2="779.2" y2="202.52" stroke="#2f8616" stroke-width="0.6"/>
<line x1="779.7" y1="205.6" x2="779.7" y2="202.9" stroke="#2f8616" stroke-width="0.6"/>
<line x1="780.2" y1="205.6" x2="780.2" y2="202.97" stroke="#2f8616" stroke-width="0.6"/>
<line x1="780.7" y1="205.6" x2="780.7" y2="202.17" stroke="#2f8616" stroke-width="0.6"/>
<line x1="781.2" y1="205.6" x2="781.2" y2="202.28" stroke="#2f8616" stroke-width="0.6"/>
<line x1="781.7" y1="205.6" x2="781.7" y2="202.65" stroke="#2f8616" stroke-width="0.6"/>
<line x1="782.2" y1="205.6" x2="782.2" y2="202.67" stroke="#2f8616" stroke-width="0.6"/>
<line x1="782.7" y1="205.6" x2="782.7" y2="201.53" stroke="#2f8616" stroke-width="0.6"/>
<line x1="783.2" y1="205.6" x2="783.2" y2="203.16" stroke="#2f8616" stroke-width="0.6"/>
<line x1="783.7" y1="205.6" x2="783.7" y2="202.17" stroke="#2f8616" stroke-width="0.6"/>
<line x1="784.2" y1="205.6" x2="784.2" y2="203.15" stroke="#2f8616" stroke-width="0.6"/>
<line x1="784.7" y1="205.6" x2="784.7" y2="202.76" stroke="#2f8616" stroke-width="0.6"/>
<line x1="785.2" y1="205.6" x2="785.2" y2="202.86" stroke="#2f8616" stroke-width="0.6"/>
<line x1="785.7" y1="205.6" x2="785.7" y2="203.27" stroke="#2f8616" stroke-width="0.6"/>
<line x1="786.2" y1="205.6" x2="786.2" y2="203.34" stroke="#2f8616" stroke-width="0.6"/>
<line x1="786.7" y1="205.6" x2="786.7" y2="202.95" stroke="#2f8616" stroke-width="0.6"/>
<line x1="787.2" y1="205.6" x2="787.2" y2="202.86" stroke="#2f8616" stroke-width="0.6"/>
<line x1="787.7" y1="205.6" x2="787.7" y2="202.21" stroke="#2f8616" stroke-width="0.6"/>
<line x1="788.2" y1="205.6" x2="788.2" y2="203.01" stroke="#2f8616" stroke-width="0.6"/>
<line x1="788.7" y1="205.6" x2="788.7" y2="202.49" stroke="#2f8616" stroke-width="0.6"/>
<line x1="789.2" y1="205.6" x2="789.2" y2="202.8" stroke="#2f8616" stroke-width="0.6"/>
<line x1="789.7" y1="205.6" x2="789.7" y2="203.26" stroke="#2f8616" stroke-width="0.6"/>
<line x1="790.2" y1="205.6" x2="790.2" y2="202.66" stroke="#2f8616" stroke-width="0.6"/>
<line x1="790.7" y1="205.6" x2="790.7" y2="202.55" stroke="#2f8616" stroke-width="0.6"/>
<line x1="791.2" y1="205.6" x2="791.2" y2="203.33" stroke="#2f8616" stroke-width="0.6"/>
<line x1="791.7" y1="205.6" x2="791.7" y2="202.1" stroke="#2f8616" stroke-width="0.6"/>
<line x1="792.2" y1="205.6" x2="792.2" y2="201.75" stroke="#2f8616" stroke-width="0.6"/>
<line x1="792.7" y1="205.6" x2="792.7" y2="201.96" stroke="#2f8616" stroke-width="0.6"/>
<line x1="793.2" y1="205.6" x2="793.2" y2="203.46" stroke="#2f8616" stroke-width="0.6"/>
<line x1="793.7" y1="205.6" x2="793.7" y2="202.25" stroke="#2f8616" stroke-width="0.6"/>
<line x1="794.2" y1="205.6" x2="794.2" y2="202.27" stroke="#2f8616" stroke-width="0.6"/>
<line x1="794.7" y1="205.6" x2="794.7" y2="202.74" stroke="#2f8616" stroke-width="0.6"/>
<line x1="795.2" y1="205.6" x2="795.2" y2="202.72" stroke="#2f8616" stroke-width="0.6"/>
<line x1="795.7" y1="205.6" x2="795.7" y2="202.26" stroke="#2f8616" stroke-width="0.6"/>
<line x1="796.2" y1="205.6" x2="796.2" y2="202.93" stroke="#2f8616" stroke-width="0.6"/>
<line x1="796.7" y1="205.6" x2="796.7" y2="202.72" stroke="#2f8616" stroke-width="0.6"/>
<line x1="797.2" y1="205.6" x2="797.2" y2="202.74" stroke="#2f8616" stroke-width="0.6"/>
<line x1="797.7" y1="205.6" x2="797.7" y2="202.41" stroke="#2f8616" stroke-width="0.6"/>
<line x1="798.2" y1="205.6" x2="798.2" y2="203.1" stroke="#2f8616" stroke-width="0.6"/>
<line x1="798.7" y1="205.6" x2="798.7" y2="202.2" stroke="#2f8616" stroke-width="0.6"/>
<line x1="799.2" y1="205.6" x2="799.2" y2="203.08" stroke="#2f8616" stroke-width="0.6"/>
<line x1="799.7" y1="205.6" x2="799.7" y2="203.01" stroke="#2f8616" stroke-width="0.6"/>
<line x1="800.2" y1="205.6" x2="800.2" y2="202.94" stroke="#2f8616" stroke-width="0.6"/>
<line x1="800.7" y1="205.6" x2="800.7" y2="202.83" stroke="#2f8616" stroke-width="0.6"/>
<line x1="801.2" y1="205.6" x2="801.2" y2="203.39" stroke="#2f8616" stroke-width="0.6"/>
<line x1="801.7" y1="205.6" x2="801.7" y2="202.79" stroke="#2f8616" stroke-width="0.6"/>
<line x1="802.2" y1="205.6" x2="802.2" y2="203.25" stroke="#2f8616" stroke-width="0.6"/>
<line x1="802.7" y1="205.6" x2="802.7" y2="202.97" stroke="#2f8616" stroke-width="0.6"/>
<line x1="803.2" y1="205.6" x2="803.2" y2="203.3" stroke="#2f8616" stroke-width="0.6"/>
<line x1="803.7" y1="205.6" x2="803.7" y2="202.9" stroke="#2f8616" stroke-width="0.6"/>
<line x1="804.2" y1="205.6" x2="804.2" y2="203.53" stroke="#2f8616" stroke-width="0.6"/>
<line x1="804.7" y1="205.6" x2="804.7" y2="202.94" stroke="#2f8616" stroke-width="0.6"/>
<line x1="805.2" y1="205.6" x2="805.2" y2="203.24" stroke="#2f8616" stroke-width="0.6"/>
<line x1="805.7" y1="205.6" x2="805.7" y2="203.21" stroke="#2f8616" stroke-width="0.6"/>
<line x1="806.2" y1="205.6" x2="806.2" y2="203.51" stroke="#2f8616" stroke-width="0.6"/>
<line x1="806.7" y1="205.6" x2="806.7" y2="203.06" stroke="#2f8616" stroke-width="0.6"/>
<line x1="807.2" y1="205.6" x2="807.2" y2="202.75" stroke="#2f8616" stroke-width="0.6"/>
<line x1="807.7" y1="205.6" x2="807.7" y2="203.19" stroke="#2f8616" stroke-width="0.6"/>
<line x1="808.2" y1="205.6" x2="808.2" y2="203.06" stroke="#2f8616" stroke-width="0.6"/>
<line x1="808.7" y1="205.6" x2="808.7" y2="203.15" stroke="#2f8616" stroke-width="0.6"/>
<line x1="809.2" y1="205.6" x2="809.2" y2="203.16" stroke="#2f8616" stroke-width="0.6"/>
<line x1="809.7" y1="205.6" x2="809.7" y2="203.43" stroke="#2f8616" stroke-width="0.6"/>
<line x1="810.2" y1="205.6" x2="810.2" y2="203.33" stroke="#2f8616" stroke-width="0.6"/>
<line x1="810.7" y1="205.6" x2="810.7" y2="203.53" stroke="#2f8616" stroke-width="0.6"/>
<line x1="811.2" y1="205.6" x2="811.2" y2="203.2" stroke="#2f8616" stroke-width="0.6"/>
<line x1="811.7" y1="205.6" x2="811.7" y2="203.42" stroke="#2f8616" stroke-width="0.6"/>
<line x1="812.2" y1="205.6" x2="812.2" y2="203.48" stroke="#2f8616" stroke-width="0.6"/>
<line x1="812.7" y1="205.6" x2="812.7" y2="202.8" stroke="#2f8616" stroke-width="0.6"/>
<line x1="813.2" y1="205.6" x2="813.2" y2="203.42" stroke="#2f8616" stroke-width="0.6"/>
<line x1="813.7" y1="205.6" x2="813.7" y2="203.19" stroke="#2f8616" stroke-width="0.6"/>
<line x1="814.2" y1="205.6" x2="814.2" y2="203.34" stroke="#2f8616" stroke-width="0.6"/>
<line x1="814.7" y1="205.6" x2="814.7" y2="202.87" stroke="#2f8616" stroke-width="0.6"/>
<line x1="815.2" y1="205.6" x2="815.2" y2="203.6" stroke="#2f8616" stroke-width="0.6"/>
<line x1="815.7" y1="205.6" x2="815.7" y2="201.9" stroke="#2f8616" stroke-width="0.6"/>
<line x1="816.2" y1="205.6" x2="816.2" y2="203.31" stroke="#2f8616" stroke-width="0.6"/>
<line x1="816.7" y1="205.6" x2="816.7" y2="203.04" stroke="#2f8616" stroke-width="0.6"/>
<line x1="817.2" y1="205.6" x2="817.2" y2="203.15" stroke="#2f8616" stroke-width="0.6"/>
<line x1="817.7" y1="205.6" x2="817.7" y2="203.13" stroke="#2f8616" stroke-width="0.6"/>
<line x1="818.2" y1="205.6" x2="818.2" y2="203.54" stroke="#2f8616" stroke-width="0.6"/>
<line x1="818.7" y1="205.6" x2="818.7" y2="203.27" stroke="#2f8616" stroke-width="0.6"/>
<line x1="819.2" y1="205.6" x2="819.2" y2="203.23" stroke="#2f8616" stroke-width="0.6"/>
<line x1="819.7" y1="205.6" x2="819.7" y2="203.46" stroke="#2f8616" stroke-width="0.6"/>
<line x1="820.2" y1="205.6" x2="820.2" y2="202.83" stroke="#2f8616" stroke-width="0.6"/>
<line x1="820.7" y1="205.6" x2="820.7" y2="203.39" stroke="#2f8616" stroke-width="0.6"/>
<line x1="821.2" y1="205.6" x2="821.2" y2="201.83" stroke="#2f8616" stroke-width="0.6"/>
<line x1="821.7" y1="205.6" x2="821.7" y2="203.39" stroke="#2f8616" stroke-width="0.6"/>
<line x1="822.2" y1="205.6" x2="822.2" y2="203.47" stroke="#2f8616" stroke-width="0.6"/>
<line x1="822.7" y1="205.6" x2="822.7" y2="203.38" stroke="#2f8616" stroke-width="0.6"/>
<line x1="823.2" y1="205.6" x2="823.2" y2="202.86" stroke="#2f8616" stroke-width="0.6"/>
<line x1="823.7" y1="205.6" x2="823.7" y2="203.47" stroke="#2f8616" stroke-width="0.6"/>
<line x1="824.2" y1="205.6" x2="824.2" y2="201.49" stroke="#2f8616" stroke-width="0.6"/>
<line x1="824.7" y1="205.6" x2="824.7" y2="202.84" stroke="#2f8616" stroke-width="0.6"/>
<line x1="825.2" y1="205.6" x2="825.2" y2="202.97" stroke="#2f8616" stroke-width="0.6"/>
<line x1="825.7" y1="205.6" x2="825.7" y2="202.72" stroke="#2f8616" stroke-width="0.6"/>
<line x1="826.2" y1="205.6" x2="826.2" y2="203.33" stroke="#2f8616" stroke-width="0.6"/>
<line x1="826.7" y1="205.6" x2="826.7" y2="203.44" stroke="#2f8616" stroke-width="0.6"/>
<line x1="827.2" y1="205.6" x2="827.2" y2="203.51" stroke="#2f8616" stroke-width="0.6"/>
<line x1="827.7" y1="205.6" x2="827.7" y2="203.24" stroke="#2f8616" stroke-width="0.6"/>
<line x1="828.2" y1="205.6" x2="828.2" y2="202.92" stroke="#2f8616" stroke-width="0.6"/>
<line x1="828.7" y1="205.6" x2="828.7" y2="202.41" stroke="#2f8616" stroke-width="0.6"/>
<line x1="829.2" y1="205.6" x2="829.2" y2="203.27" stroke="#2f8616" stroke-width="0.6"/>
<line x1="829.7" y1="205.6" x2="829.7" y2="203" stroke="#2f8616" stroke-width="0.6"/>
<line x1="830.2" y1="205.6" x2="830.2" y2="202.93" stroke="#2f8616" stroke-width="0.6"/>
<line x1="830.7" y1="205.6" x2="830.7" y2="202.97" stroke="#2f8616" stroke-width="0.6"/>
<line x1="831.2" y1="205.6" x2="831.2" y2="203.14" stroke="#2f8616" stroke-width="0.6"/>
<line x1="831.7" y1="205.6" x2="831.7" y2="202.87" stroke="#2f8616" stroke-width="0.6"/>
<line x1="832.2" y1="205.6" x2="832.2" y2="203.28" stroke="#2f8616" stroke-width="0.6"/>
<line x1="832.7" y1="205.6" x2="832.7" y2="203.39" stroke="#2f8616" stroke-width="0.6"/>
<line x1="833.2" y1="205.6" x2="833.2" y2="203.6" stroke="#2f8616" stroke-width="0.6"/>
<line x1="833.7" y1="205.6" x2="833.7" y2="203.16" stroke="#2f8616" stroke-width="0.6"/>
<line x1="834.2" y1="205.6" x2="834.2" y2="203.09" stroke="#2f8616" stroke-width="0.6"/>
<line x1="834.7" y1="205.6" x2="834.7" y2="202.73" stroke="#2f8616" stroke-width="0.6"/>
<line x1="835.2" y1="205.6" x2="835.2" y2="203.07" stroke="#2f8616" stroke-width="0.6"/>
<line x1="835.7" y1="205.6" x2="835.7" y2="202.8" stroke="#2f8616" stroke-width="0.6"/>
<line x1="836.2" y1="205.6" x2="836.2" y2="202.86" stroke="#2f8616" stroke-width="0.6"/>
<line x1="836.7" y1="205.6" x2="836.7" y2="202.71" stroke="#2f8616" stroke-width="0.6"/>
<line x1="837.2" y1="205.6" x2="837.2" y2="203.25" stroke="#2f8616" stroke-width="0.6"/>
<line x1="837.7" y1="205.6" x2="837.7" y2="203.01" stroke="#2f8616" stroke-width="0.6"/>
<line x1="838.2" y1="205.6" x2="838.2" y2="202.92" stroke="#2f8616" stroke-width="0.6"/>
<line x1="838.7" y1="205.6" x2="838.7" y2="202.86" stroke="#2f8616" stroke-width="0.6"/>
<line x1="839.2" y1="205.6" x2="839.2" y2="203.33" stroke="#2f8616" stroke-width="0.6"/>
<line x1="839.7" y1="205.6" x2="839.7" y2="203" stroke="#2f8616" stroke-width="0.6"/>
<line x1="840.2" y1="205.6" x2="840.2" y2="203.1" stroke="#2f8616" stroke-width="0.6"/>
<line x1="840.7" y1="205.6" x2="840.7" y2="203.02" stroke="#2f8616" stroke-width="0.6"/>
<line x1="841.2" y1="205.6" x2="841.2" y2="203.34" stroke="#2f8616" stroke-width="0.6"/>
<line x1="841.7" y1="205.6" x2="841.7" y2="202.8" stroke="#2f8616" stroke-width="0.6"/>
<line x1="842.2" y1="205.6" x2="842.2" y2="203.35" stroke="#2f8616" stroke-width="0.6"/>
<line x1="842.7" y1="205.6" x2="842.7" y2="202.94" stroke="#2f8616" stroke-width="0.6"/>
<line x1="843.2" y1="205.6" x2="843.2" y2="203.01" stroke="#2f8616" stroke-width="0.6"/>
<line x1="843.7" y1="205.6" x2="843.7" y2="202.95" stroke="#2f8616" stroke-width="0.6"/>
<line x1="844.2" y1="205.6" x2="844.2" y2="203.26" stroke="#2f8616" stroke-width="0.6"/>
<line x1="844.7" y1="205.6" x2="844.7" y2="203.2" stroke="#2f8616" stroke-width="0.6"/>
<line x1="845.2" y1="205.6" x2="845.2" y2="202.92" stroke="#2f8616" stroke-width="0.6"/>
<line x1="845.7" y1="205.6" x2="845.7" y2="203.5" stroke="#2f8616" stroke-width="0.6"/>
<line x1="846.2" y1="205.6" x2="846.2" y2="202.75" stroke="#2f8616" stroke-width="0.6"/>
<line x1="846.7" y1="205.6" x2="846.7" y2="203.08" stroke="#2f8616" stroke-width="0.6"/>
<line x1="847.2" y1="205.6" x2="847.2" y2="203.57" stroke="#2f8616" stroke-width="0.6"/>
<line x1="847.7" y1="205.6" x2="847.7" y2="203.04" stroke="#2f8616" stroke-width="0.6"/>
<line x1="848.2" y1="205.6" x2="848.2" y2="203.32" stroke="#2f8616" stroke-width="0.6"/>
<line x1="848.7" y1="205.6" x2="848.7" y2="203.49" stroke="#2f8616" stroke-width="0.6"/>
<line x1="849.2" y1="205.6" x2="849.2" y2="203.37" stroke="#2f8616" stroke-width="0.6"/>
<line x1="849.7" y1="205.6" x2="849.7" y2="202.88" stroke="#2f8616" stroke-width="0.6"/>
<line x1="850.2" y1="205.6" x2="850.2" y2="202.92" stroke="#2f8616" stroke-width="0.6"/>
<line x1="850.7" y1="205.6" x2="850.7" y2="203.13" stroke="#2f8616" stroke-width="0.6"/>
<line x1="851.2" y1="205.6" x2="851.2" y2="202.83" stroke="#2f8616" stroke-width="0.6"/>
<line x1="851.7" y1="205.6" x2="851.7" y2="202.92" stroke="#2f8616" stroke-width="0.6"/>
<line x1="852.2" y1="205.6" x2="852.2" y2="201.96" stroke="#2f8616" stroke-width="0.6"/>
<line x1="852.7" y1="205.6" x2="852.7" y2="202.49" stroke="#2f8616" stroke-width="0.6"/>
<line x1="853.2" y1="205.6" x2="853.2" y2="202.8" stroke="#2f8616" stroke-width="0.6"/>
<line x1="853.7" y1="205.6" x2="853.7" y2="203.32" stroke="#2f8616" stroke-width="0.6"/>
<line x1="854.2" y1="205.6" x2="854.2" y2="203.28" stroke="#2f8616" stroke-width="0.6"/>
<line x1="854.7" y1="205.6" x2="854.7" y2="201.68" stroke="#2f8616" stroke-width="0.6"/>
<line x1="855.2" y1="205.6" x2="855.2" y2="203.54" stroke="#2f8616" stroke-width="0.6"/>
<line x1="855.7" y1="205.6" x2="855.7" y2="202.91" stroke="#2f8616" stroke-width="0.6"/>
<line x1="856.2" y1="205.6" x2="856.2" y2="203.11" stroke="#2f8616" stroke-width="0.6"/>
<line x1="856.7" y1="205.6" x2="856.7" y2="203.07" stroke="#2f8616" stroke-width="0.6"/>
<line x1="857.2" y1="205.6" x2="857.2" y2="202.92" stroke="#2f8616" stroke-width="0.6"/>
<line x1="857.7" y1="205.6" x2="857.7" y2="203.08" stroke="#2f8616" stroke-width="0.6"/>
<line x1="858.2" y1="205.6" x2="858.2" y2="203.31" stroke="#2f8616" stroke-width="0.6"/>
<line x1="858.7" y1="205.6" x2="858.7" y2="202.71" stroke="#2f8616" stroke-width="0.6"/>
<line x1="859.2" y1="205.6" x2="859.2" y2="203.6" stroke="#2f8616" stroke-width="0.6"/>
<line x1="859.7" y1="205.6" x2="859.7" y2="203.4" stroke="#2f8616" stroke-width="0.6"/>
<line x1="860.2" y1="205.6" x2="860.2" y2="203.42" stroke="#2f8616" stroke-width="0.6"/>
<line x1="860.7" y1="205.6" x2="860.7" y2="202.91" stroke="#2f8616" stroke-width="0.6"/>
<line x1="861.2" y1="205.6" x2="861.2" y2="202.72" stroke="#2f8616" stroke-width="0.6"/>
<line x1="861.7" y1="205.6" x2="861.7" y2="202.79" stroke="#2f8616" stroke-width="0.6"/>
<line x1="862.2" y1="205.6" x2="862.2" y2="203.41" stroke="#2f8616" stroke-width="0.6"/>
<line x1="862.7" y1="205.6" x2="862.7" y2="203.23" stroke="#2f8616" stroke-width="0.6"/>
<line x1="863.2" y1="205.6" x2="863.2" y2="203.56" stroke="#2f8616" stroke-width="0.6"/>
<line x1="863.7" y1="205.6" x2="863.7" y2="203.1" stroke="#2f8616" stroke-width="0.6"/>
<line x1="864.2" y1="205.6" x2="864.2" y2="202.85" stroke="#2f8616" stroke-width="0.6"/>
<line x1="864.7" y1="205.6" x2="864.7" y2="203.2" stroke="#2f8616" stroke-width="0.6"/>
<line x1="865.2" y1="205.6" x2="865.2" y2="203.28" stroke="#2f8616" stroke-width="0.6"/>
<line x1="865.7" y1="205.6" x2="865.7" y2="203.15" stroke="#2f8616" stroke-width="0.6"/>
<line x1="866.2" y1="205.6" x2="866.2" y2="203.39" stroke="#2f8616" stroke-width="0.6"/>
<line x1="866.7" y1="205.6" x2="866.7" y2="203.35" stroke="#2f8616" stroke-width="0.6"/>
<line x1="867.2" y1="205.6" x2="867.2" y2="203.55" stroke="#2f8616" stroke-width="0.6"/>
<line x1="867.7" y1="205.6" x2="867.7" y2="203.04" stroke="#2f8616" stroke-width="0.6"/>
<line x1="868.2" y1="205.6" x2="868.2" y2="203.01" stroke="#2f8616" stroke-width="0.6"/>
<line x1="868.7" y1="205.6" x2="868.7" y2="202.86" stroke="#2f8616" stroke-width="0.6"/>
<line x1="869.2" y1="205.6" x2="869.2" y2="202.9" stroke="#2f8616" stroke-width="0.6"/>
<line x1="869.7" y1="205.6" x2="869.7" y2="202.83" stroke="#2f8616" stroke-width="0.6"/>
<line x1="870.2" y1="205.6" x2="870.2" y2="203.1" stroke="#2f8616" stroke-width="0.6"/>
<line x1="870.7" y1="205.6" x2="870.7" y2="202.97" stroke="#2f8616" stroke-width="0.6"/>
<line x1="871.2" y1="205.6" x2="871.2" y2="203.07" stroke="#2f8616" stroke-width="0.6"/>
<line x1="871.7" y1="205.6" x2="871.7" y2="203.38" stroke="#2f8616" stroke-width="0.6"/>
<line x1="872.2" y1="205.6" x2="872.2" y2="203.49" stroke="#2f8616" stroke-width="0.6"/>
<line x1="872.7" y1="205.6" x2="872.7" y2="203.08" stroke="#2f8616" stroke-width="0.6"/>
<line x1="873.2" y1="205.6" x2="873.2" y2="202.8" stroke="#2f8616" stroke-width="0.6"/>
<line x1="873.7" y1="205.6" x2="873.7" y2="202.8" stroke="#2f8616" stroke-width="0.6"/>
<line x1="874.2" y1="205.6" x2="874.2" y2="203.36" stroke="#2f8616" stroke-width="0.6"/>
<line x1="874.7" y1="205.6" x2="874.7" y2="202.88" stroke="#2f8616" stroke-width="0.6"/>
<line x1="875.2" y1="205.6" x2="875.2" y2="202.88" stroke="#2f8616" stroke-width="0.6"/>
<line x1="875.7" y1="205.6" x2="875.7" y2="203.06" stroke="#2f8616" stroke-width="0.6"/>
<line x1="876.2" y1="205.6" x2="876.2" y2="203.39" stroke="#2f8616" stroke-width="0.6"/>
<line x1="876.7" y1="205.6" x2="876.7" y2="202.93" stroke="#2f8616" stroke-width="0.6"/>
<line x1="877.2" y1="205.6" x2="877.2" y2="201.21" stroke="#2f8616" stroke-width="0.6"/>
<line x1="877.7" y1="205.6" x2="877.7" y2="203.39" stroke="#2f8616" stroke-width="0.6"/>
<line x1="878.2" y1="205.6" x2="878.2" y2="202.86" stroke="#2f8616" stroke-width="0.6"/>
<line x1="878.7" y1="205.6" x2="878.7" y2="203.18" stroke="#2f8616" stroke-width="0.6"/>
<line x1="879.2" y1="205.6" x2="879.2" y2="203.34" stroke="#2f8616" stroke-width="0.6"/>
<line x1="879.7" y1="205.6" x2="879.7" y2="203.5" stroke="#2f8616" stroke-width="0.6"/>
<line x1="880.2" y1="205.6" x2="880.2" y2="201.56" stroke="#2f8616" stroke-width="0.6"/>
<line x1="880.7" y1="205.6" x2="880.7" y2="202.9" stroke="#2f8616" stroke-width="0.6"/>
<line x1="881.2" y1="205.6" x2="881.2" y2="203.58" stroke="#2f8616" stroke-width="0.6"/>
<line x1="881.7" y1="205.6" x2="881.7" y2="202.96" stroke="#2f8616" stroke-width="0.6"/>
<line x1="882.2" y1="205.6" x2="882.2" y2="203.03" stroke="#2f8616" stroke-width="0.6"/>
<line x1="882.7" y1="205.6" x2="882.7" y2="202.86" stroke="#2f8616" stroke-width="0.6"/>
<line x1="883.2" y1="205.6" x2="883.2" y2="203.25" stroke="#2f8616" stroke-width="0.6"/>
<line x1="883.7" y1="205.6" x2="883.7" y2="203.46" stroke="#2f8616" stroke-width="0.6"/>
<line x1="884.2" y1="205.6" x2="884.2" y2="203.42" stroke="#2f8616" stroke-width="0.6"/>
<line x1="884.7" y1="205.6" x2="884.7" y2="203.31" stroke="#2f8616" stroke-width="0.6"/>
<line x1="885.2" y1="205.6" x2="885.2" y2="203.11" stroke="#2f8616" stroke-width="0.6"/>
<line x1="885.7" y1="205.6" x2="885.7" y2="203.46" stroke="#2f8616" stroke-width="0.6"/>
<line x1="886.2" y1="205.6" x2="886.2" y2="202.98" stroke="#2f8616" stroke-width="0.6"/>
<line x1="886.7" y1="205.6" x2="886.7" y2="203" stroke="#2f8616" stroke-width="0.6"/>
<line x1="887.2" y1="205.6" x2="887.2" y2="203.25" stroke="#2f8616" stroke-width="0.6"/>
<line x1="887.7" y1="205.6" x2="887.7" y2="203.05" stroke="#2f8616" stroke-width="0.6"/>
<line x1="888.2" y1="205.6" x2="888.2" y2="203.13" stroke="#2f8616" stroke-width="0.6"/>
<line x1="888.7" y1="205.6" x2="888.7" y2="202.99" stroke="#2f8616" stroke-width="0.6"/>
<text transform="translate(521.72,30.2) scale(0.983,1)" font-size="10.8" text-anchor="end" font-weight="bold" fill="#1c1c1c">150</text>
<text transform="translate(521.72,41.2) scale(0.983,1)" font-size="10.8" text-anchor="end" font-weight="bold" fill="#1c1c1c">100</text>
<text transform="translate(521.72,52.2) scale(0.983,1)" font-size="10.8" text-anchor="end" font-weight="bold" fill="#1c1c1c">50</text>
<text transform="translate(521.72,63.2) scale(0.983,1)" font-size="10.8" text-anchor="end" font-weight="bold" fill="#1c1c1c">0</text>
<text transform="translate(521.72,74.2) scale(0.983,1)" font-size="10.8" text-anchor="end" font-weight="bold" fill="#1c1c1c">-50</text>
<text transform="translate(521.72,85.2) scale(0.983,1)" font-size="10.8" text-anchor="end" font-weight="bold" fill="#1c1c1c">-100</text>
<text transform="translate(521.72,96.2) scale(0.983,1)" font-size="10.8" text-anchor="end" font-weight="bold" fill="#1c1c1c">-150</text>
<text transform="translate(521.84,126.7) scale(1.013,1)" font-size="10.8" text-anchor="end" font-weight="bold" fill="#1c1c1c">2500</text>
<text transform="translate(521.84,159.9) scale(1.013,1)" font-size="10.8" text-anchor="end" font-weight="bold" fill="#1c1c1c">1500</text>
<text transform="translate(521.84,193.1) scale(1.013,1)" font-size="10.8" text-anchor="end" font-weight="bold" fill="#1c1c1c">500</text>
<text transform="translate(521.84,209.7) scale(1.013,1)" font-size="10.8" text-anchor="end" font-weight="bold" fill="#1c1c1c">0</text>
<text transform="translate(525.65,218.92) scale(0.896,1)" font-size="10.8" text-anchor="middle" font-weight="bold" fill="#1c1c1c">0</text>
<text transform="translate(628.3,218.92) scale(0.896,1)" font-size="10.8" text-anchor="middle" font-weight="bold" fill="#1c1c1c">10</text>
<text transform="translate(730.45,218.92) scale(0.896,1)" font-size="10.8" text-anchor="middle" font-weight="bold" fill="#1c1c1c">20</text>
<text transform="translate(833.4,218.92) scale(0.896,1)" font-size="10.8" text-anchor="middle" font-weight="bold" fill="#1c1c1c">30</text>
<text transform="translate(682.54,220.18) scale(0.989,1)" font-size="10.8" text-anchor="middle" font-weight="normal" fill="#1c1c1c">Time (ms)</text>
<text transform="translate(479.58,56.02) rotate(-90) scale(1.028,1)" font-size="11" text-anchor="middle" font-weight="normal" fill="#1c1c1c" stroke="#1c1c1c" stroke-width="0.3">Voltage (kV)</text>
<text transform="translate(478.96,156.06) rotate(-90) scale(1.035,1)" font-size="11" text-anchor="middle" font-weight="normal" fill="#1c1c1c" stroke="#1c1c1c" stroke-width="0.3">PD (pC)</text>
<path d="M709,136.1 Q702.2,148.7 709,161.3 L711,161.3 Q706.2,148.7 711,136.1 Z" fill="#000"/>
<g fill="none" stroke="#000" stroke-width="2.6"><path d="M716.15,136.4 L716.15,157.1"/><ellipse cx="721.15" cy="149.6" rx="4.65" ry="6.2"/></g>
<path d="M732.3,136.1 Q739.7,148.7 732.3,161.3 L730.3,161.3 Q735.7,148.7 730.3,136.1 Z" fill="#000"/>
<line x1="427.6" y1="476.5" x2="785.3" y2="476.5" stroke="#a2a2a2" stroke-width="1" stroke-dasharray="1.5 1.93"/>
<line x1="427.6" y1="466.5" x2="785.3" y2="466.5" stroke="#a2a2a2" stroke-width="1" stroke-dasharray="1.5 1.93"/>
<line x1="427.6" y1="456.5" x2="785.3" y2="456.5" stroke="#a2a2a2" stroke-width="1" stroke-dasharray="1.5 1.93"/>
<line x1="427.6" y1="446.5" x2="785.3" y2="446.5" stroke="#a2a2a2" stroke-width="1" stroke-dasharray="1.5 1.93"/>
<line x1="427.6" y1="436.5" x2="785.3" y2="436.5" stroke="#a2a2a2" stroke-width="1" stroke-dasharray="1.5 1.93"/>
<line x1="427.6" y1="426.5" x2="785.3" y2="426.5" stroke="#a2a2a2" stroke-width="1" stroke-dasharray="1.5 1.93"/>
<line x1="427.6" y1="416.5" x2="785.3" y2="416.5" stroke="#a2a2a2" stroke-width="1" stroke-dasharray="1.5 1.93"/>
<line x1="427.6" y1="406.5" x2="785.3" y2="406.5" stroke="#a2a2a2" stroke-width="1" stroke-dasharray="1.5 1.93"/>
<line x1="427.6" y1="396.5" x2="785.3" y2="396.5" stroke="#a2a2a2" stroke-width="1" stroke-dasharray="1.5 1.93"/>
<line x1="427.6" y1="386.5" x2="785.3" y2="386.5" stroke="#a2a2a2" stroke-width="1" stroke-dasharray="1.5 1.93"/>
<line x1="427.6" y1="376.5" x2="785.3" y2="376.5" stroke="#a2a2a2" stroke-width="1" stroke-dasharray="1.5 1.93"/>
<line x1="427.6" y1="366.5" x2="785.3" y2="366.5" stroke="#a2a2a2" stroke-width="1" stroke-dasharray="1.5 1.93"/>
<line x1="427.6" y1="356.5" x2="785.3" y2="356.5" stroke="#a2a2a2" stroke-width="1" stroke-dasharray="1.5 1.93"/>
<line x1="427.6" y1="346.5" x2="785.3" y2="346.5" stroke="#a2a2a2" stroke-width="1" stroke-dasharray="1.5 1.93"/>
<line x1="427.6" y1="336.5" x2="785.3" y2="336.5" stroke="#a2a2a2" stroke-width="1" stroke-dasharray="1.5 1.93"/>
<line x1="427.6" y1="326.5" x2="785.3" y2="326.5" stroke="#a2a2a2" stroke-width="1" stroke-dasharray="1.5 1.93"/>
<line x1="427.6" y1="316.5" x2="785.3" y2="316.5" stroke="#a2a2a2" stroke-width="1" stroke-dasharray="1.5 1.93"/>
<line x1="427.6" y1="306.5" x2="785.3" y2="306.5" stroke="#a2a2a2" stroke-width="1" stroke-dasharray="1.5 1.93"/>
<line x1="427.6" y1="296.5" x2="785.3" y2="296.5" stroke="#a2a2a2" stroke-width="1" stroke-dasharray="1.5 1.93"/>
<line x1="427.6" y1="286.5" x2="785.3" y2="286.5" stroke="#a2a2a2" stroke-width="1" stroke-dasharray="1.5 1.93"/>
<line x1="427.6" y1="276.5" x2="785.3" y2="276.5" stroke="#a2a2a2" stroke-width="1" stroke-dasharray="1.5 1.93"/>
<line x1="427.6" y1="266.5" x2="785.3" y2="266.5" stroke="#a2a2a2" stroke-width="1" stroke-dasharray="1.5 1.93"/>
<line x1="427.6" y1="256.5" x2="785.3" y2="256.5" stroke="#a2a2a2" stroke-width="1" stroke-dasharray="1.5 1.93"/>
<line x1="427.6" y1="246.5" x2="785.3" y2="246.5" stroke="#a2a2a2" stroke-width="1" stroke-dasharray="1.5 1.93"/>
<line x1="485.5" y1="240.4" x2="485.5" y2="486.8" stroke="#9c9c9c" stroke-width="1" stroke-dasharray="1.3 2.65"/>
<line x1="544.5" y1="240.4" x2="544.5" y2="486.8" stroke="#9c9c9c" stroke-width="1" stroke-dasharray="1.3 2.65"/>
<line x1="602.5" y1="240.4" x2="602.5" y2="486.8" stroke="#9c9c9c" stroke-width="1" stroke-dasharray="1.3 2.65"/>
<line x1="660.5" y1="240.4" x2="660.5" y2="486.8" stroke="#9c9c9c" stroke-width="1" stroke-dasharray="1.3 2.65"/>
<line x1="719.5" y1="240.4" x2="719.5" y2="486.8" stroke="#9c9c9c" stroke-width="1" stroke-dasharray="1.3 2.65"/>
<line x1="777.5" y1="240.4" x2="777.5" y2="486.8" stroke="#9c9c9c" stroke-width="1" stroke-dasharray="1.3 2.65"/>
<line x1="427.6" y1="239.4" x2="785.3" y2="239.4" stroke="#666" stroke-width="1.3"/>
<line x1="785.3" y1="239.4" x2="785.3" y2="486.8" stroke="#555" stroke-width="1.5"/>
<line x1="427.6" y1="239.4" x2="427.6" y2="486.8" stroke="#222" stroke-width="1.5"/>
<line x1="427.6" y1="486.8" x2="785.3" y2="486.8" stroke="#222" stroke-width="1.4"/>
<line x1="425.6" y1="486.8" x2="427.6" y2="486.8" stroke="#444" stroke-width="0.8"/>
<line x1="425.6" y1="476.79" x2="427.6" y2="476.79" stroke="#444" stroke-width="0.8"/>
<line x1="425.6" y1="466.78" x2="427.6" y2="466.78" stroke="#444" stroke-width="0.8"/>
<line x1="425.6" y1="456.77" x2="427.6" y2="456.77" stroke="#444" stroke-width="0.8"/>
<line x1="425.6" y1="446.76" x2="427.6" y2="446.76" stroke="#444" stroke-width="0.8"/>
<line x1="425.6" y1="436.75" x2="427.6" y2="436.75" stroke="#444" stroke-width="0.8"/>
<line x1="425.6" y1="426.74" x2="427.6" y2="426.74" stroke="#444" stroke-width="0.8"/>
<line x1="425.6" y1="416.73" x2="427.6" y2="416.73" stroke="#444" stroke-width="0.8"/>
<line x1="425.6" y1="406.72" x2="427.6" y2="406.72" stroke="#444" stroke-width="0.8"/>
<line x1="425.6" y1="396.71" x2="427.6" y2="396.71" stroke="#444" stroke-width="0.8"/>
<line x1="425.6" y1="386.7" x2="427.6" y2="386.7" stroke="#444" stroke-width="0.8"/>
<line x1="425.6" y1="376.69" x2="427.6" y2="376.69" stroke="#444" stroke-width="0.8"/>
<line x1="425.6" y1="366.68" x2="427.6" y2="366.68" stroke="#444" stroke-width="0.8"/>
<line x1="425.6" y1="356.67" x2="427.6" y2="356.67" stroke="#444" stroke-width="0.8"/>
<line x1="425.6" y1="346.66" x2="427.6" y2="346.66" stroke="#444" stroke-width="0.8"/>
<line x1="425.6" y1="336.65" x2="427.6" y2="336.65" stroke="#444" stroke-width="0.8"/>
<line x1="425.6" y1="326.64" x2="427.6" y2="326.64" stroke="#444" stroke-width="0.8"/>
<line x1="425.6" y1="316.63" x2="427.6" y2="316.63" stroke="#444" stroke-width="0.8"/>
<line x1="425.6" y1="306.62" x2="427.6" y2="306.62" stroke="#444" stroke-width="0.8"/>
<line x1="425.6" y1="296.61" x2="427.6" y2="296.61" stroke="#444" stroke-width="0.8"/>
<line x1="425.6" y1="286.6" x2="427.6" y2="286.6" stroke="#444" stroke-width="0.8"/>
<line x1="425.6" y1="276.59" x2="427.6" y2="276.59" stroke="#444" stroke-width="0.8"/>
<line x1="425.6" y1="266.58" x2="427.6" y2="266.58" stroke="#444" stroke-width="0.8"/>
<line x1="425.6" y1="256.57" x2="427.6" y2="256.57" stroke="#444" stroke-width="0.8"/>
<line x1="425.6" y1="246.56" x2="427.6" y2="246.56" stroke="#444" stroke-width="0.8"/>
<rect x="427.5" y="483.5" width="2.5" height="3.4" fill="#111"/>
<rect x="435.8" y="483.5" width="8.6" height="3.4" fill="#111"/>
<rect x="446.3" y="483.5" width="4.5" height="3.4" fill="#111"/>
<rect x="453.8" y="483.5" width="5" height="3.4" fill="#111"/>
<rect x="461.6" y="483.5" width="4.4" height="3.4" fill="#111"/>
<rect x="468.2" y="483.5" width="7" height="3.4" fill="#111"/>
<rect x="482.5" y="483.5" width="4.5" height="3.4" fill="#111"/>
<rect x="491.4" y="483.5" width="5" height="3.4" fill="#111"/>
<rect x="503.1" y="483.5" width="5" height="3.4" fill="#111"/>
<rect x="523" y="483.5" width="5" height="3.4" fill="#111"/>
<rect x="533" y="483.5" width="4.5" height="3.4" fill="#111"/>
<rect x="543" y="483.5" width="5" height="3.4" fill="#111"/>
<rect x="553" y="483.5" width="4.5" height="3.4" fill="#111"/>
<rect x="562" y="483.5" width="4.5" height="3.4" fill="#111"/>
<rect x="572.5" y="483.5" width="5" height="3.4" fill="#111"/>
<rect x="583.6" y="483.5" width="5" height="3.4" fill="#111"/>
<rect x="595" y="483.5" width="4.5" height="3.4" fill="#111"/>
<rect x="601.8" y="483.5" width="5.5" height="3.4" fill="#111"/>
<rect x="611.8" y="483.5" width="4.5" height="3.4" fill="#111"/>
<rect x="512.6" y="483.5" width="4.8" height="3.4" fill="#111"/>
<rect x="622" y="483.5" width="4.6" height="3.4" fill="#111"/>
<rect x="632.63" y="483.5" width="4.6" height="3.4" fill="#111"/>
<rect x="643.53" y="483.5" width="4.6" height="3.4" fill="#111"/>
<rect x="655.34" y="483.5" width="4.6" height="3.4" fill="#111"/>
<rect x="666.01" y="483.5" width="4.6" height="3.4" fill="#111"/>
<rect x="676.77" y="483.5" width="4.6" height="3.4" fill="#111"/>
<rect x="687.74" y="483.5" width="4.6" height="3.4" fill="#111"/>
<rect x="697.7" y="483.5" width="4.6" height="3.4" fill="#111"/>
<rect x="708.48" y="483.5" width="4.6" height="3.4" fill="#111"/>
<rect x="719.56" y="483.5" width="4.6" height="3.4" fill="#111"/>
<rect x="731.04" y="483.5" width="4.6" height="3.4" fill="#111"/>
<rect x="740.78" y="483.5" width="4.6" height="3.4" fill="#111"/>
<rect x="751.04" y="483.5" width="4.6" height="3.4" fill="#111"/>
<rect x="760.76" y="483.5" width="4.6" height="3.4" fill="#111"/>
<rect x="772.29" y="483.5" width="4.6" height="3.4" fill="#111"/>
<circle cx="515.2" cy="242" r="2.2" fill="#f4e41c" stroke="#4a4a1a" stroke-width="0.9"/>
<circle cx="515.2" cy="245.7" r="2.2" fill="#f4e41c" stroke="#4a4a1a" stroke-width="0.9"/>
<circle cx="515.2" cy="284.5" r="2.2" fill="#f4e41c" stroke="#4a4a1a" stroke-width="0.9"/>
<circle cx="515.2" cy="293.1" r="2.2" fill="#f4e41c" stroke="#4a4a1a" stroke-width="0.9"/>
<circle cx="515.2" cy="321.2" r="2.2" fill="#f4e41c" stroke="#4a4a1a" stroke-width="0.9"/>
<circle cx="515.2" cy="329.1" r="2.2" fill="#f4e41c" stroke="#4a4a1a" stroke-width="0.9"/>
<circle cx="515.2" cy="354.6" r="2.2" fill="#f4e41c" stroke="#4a4a1a" stroke-width="0.9"/>
<circle cx="515.2" cy="366.6" r="2.2" fill="#f4e41c" stroke="#4a4a1a" stroke-width="0.9"/>
<circle cx="515.2" cy="374.5" r="2.2" fill="#f4e41c" stroke="#4a4a1a" stroke-width="0.9"/>
<circle cx="515.2" cy="376.9" r="2.2" fill="#f4e41c" stroke="#4a4a1a" stroke-width="0.9"/>
<circle cx="515.2" cy="386.5" r="2.2" fill="#f4e41c" stroke="#4a4a1a" stroke-width="0.9"/>
<circle cx="515.2" cy="393.4" r="2.2" fill="#f4e41c" stroke="#4a4a1a" stroke-width="0.9"/>
<circle cx="515.2" cy="400.5" r="2.2" fill="#f4e41c" stroke="#4a4a1a" stroke-width="0.9"/>
<circle cx="515.2" cy="403.5" r="2.2" fill="#f4e41c" stroke="#4a4a1a" stroke-width="0.9"/>
<circle cx="515.2" cy="407.1" r="2.2" fill="#f4e41c" stroke="#4a4a1a" stroke-width="0.9"/>
<circle cx="515.2" cy="411" r="2.2" fill="#f4e41c" stroke="#4a4a1a" stroke-width="0.9"/>
<circle cx="515.2" cy="412.3" r="2.2" fill="#f4e41c" stroke="#4a4a1a" stroke-width="0.9"/>
<circle cx="515.2" cy="416.8" r="2.2" fill="#f4e41c" stroke="#4a4a1a" stroke-width="0.9"/>
<circle cx="515.2" cy="419.2" r="2.2" fill="#f4e41c" stroke="#4a4a1a" stroke-width="0.9"/>
<circle cx="515.2" cy="422.6" r="2.2" fill="#f4e41c" stroke="#4a4a1a" stroke-width="0.9"/>
<circle cx="515.2" cy="426" r="2.2" fill="#f4e41c" stroke="#4a4a1a" stroke-width="0.9"/>
<circle cx="515.2" cy="429.5" r="2.2" fill="#f4e41c" stroke="#4a4a1a" stroke-width="0.9"/>
<circle cx="515.2" cy="432.9" r="2.2" fill="#f4e41c" stroke="#4a4a1a" stroke-width="0.9"/>
<circle cx="515.2" cy="448.7" r="2.2" fill="#f4e41c" stroke="#4a4a1a" stroke-width="0.9"/>
<circle cx="515.2" cy="455" r="2.2" fill="#f4e41c" stroke="#4a4a1a" stroke-width="0.9"/>
<circle cx="515.2" cy="458.5" r="2.2" fill="#f4e41c" stroke="#4a4a1a" stroke-width="0.9"/>
<circle cx="515.2" cy="467.4" r="2.2" fill="#f4e41c" stroke="#4a4a1a" stroke-width="0.9"/>
<circle cx="515.2" cy="470.4" r="2.2" fill="#f4e41c" stroke="#4a4a1a" stroke-width="0.9"/>
<circle cx="515.2" cy="473.3" r="2.2" fill="#f4e41c" stroke="#4a4a1a" stroke-width="0.9"/>
<circle cx="515.2" cy="477.2" r="2.2" fill="#f4e41c" stroke="#4a4a1a" stroke-width="0.9"/>
<circle cx="515.2" cy="480.7" r="2.2" fill="#f4e41c" stroke="#4a4a1a" stroke-width="0.9"/>
<circle cx="515.2" cy="483.5" r="2.2" fill="#f4e41c" stroke="#4a4a1a" stroke-width="0.9"/>
<text transform="translate(424.5,291.12) scale(0.883,1)" font-size="14" text-anchor="end" font-weight="bold" fill="#1c1c1c">10 000</text>
<text transform="translate(424.5,331.16) scale(0.883,1)" font-size="14" text-anchor="end" font-weight="bold" fill="#1c1c1c">8 000</text>
<text transform="translate(424.5,371.2) scale(0.883,1)" font-size="14" text-anchor="end" font-weight="bold" fill="#1c1c1c">6 000</text>
<text transform="translate(424.5,411.24) scale(0.883,1)" font-size="14" text-anchor="end" font-weight="bold" fill="#1c1c1c">4 000</text>
<text transform="translate(424.5,451.28) scale(0.883,1)" font-size="14" text-anchor="end" font-weight="bold" fill="#1c1c1c">2 000</text>
<text transform="translate(424.5,491.32) scale(0.883,1)" font-size="14" text-anchor="end" font-weight="bold" fill="#1c1c1c">0</text>
<text transform="translate(428.58,502.1) scale(0.883,1)" font-size="14" text-anchor="middle" font-weight="bold" fill="#1c1c1c">0</text>
<text transform="translate(484.93,502.1) scale(0.883,1)" font-size="14" text-anchor="middle" font-weight="bold" fill="#1c1c1c">5 000</text>
<text transform="translate(545.98,502.1) scale(0.883,1)" font-size="14" text-anchor="middle" font-weight="bold" fill="#1c1c1c">10 000</text>
<text transform="translate(605.63,502.1) scale(0.883,1)" font-size="14" text-anchor="middle" font-weight="bold" fill="#1c1c1c">15 000</text>
<text transform="translate(663.93,502.1) scale(0.883,1)" font-size="14" text-anchor="middle" font-weight="bold" fill="#1c1c1c">20 000</text>
<text transform="translate(722.98,502.1) scale(0.883,1)" font-size="14" text-anchor="middle" font-weight="bold" fill="#1c1c1c">25 000</text>
<text transform="translate(773.58,502.1) scale(0.883,1)" font-size="14" text-anchor="middle" font-weight="bold" fill="#1c1c1c">30 000</text>
<text transform="translate(602.06,519.9) scale(0.891,1)" font-size="12.5" text-anchor="middle" font-weight="bold" fill="#1c1c1c">Location (m)</text>
<text transform="translate(380.36,363.38) rotate(-90) scale(1.018,1)" font-size="13.5" text-anchor="middle" font-weight="bold" fill="#1c1c1c">PD (pC)</text>
<path d="M623.7,393.2 Q616.7,405.75 623.7,418.3 L625.7,418.3 Q620.7,405.75 625.7,393.2 Z" fill="#000"/>
<path d="M637.6,402.8 A4.2,6.1 0 1 0 637.6,410.3" fill="none" stroke="#000" stroke-width="2.6"/>
<path d="M644,393.2 Q649.6,405.75 644,418.3 L642,418.3 Q645.6,405.75 642,393.2 Z" fill="#000"/>
</svg>
</body></html>
